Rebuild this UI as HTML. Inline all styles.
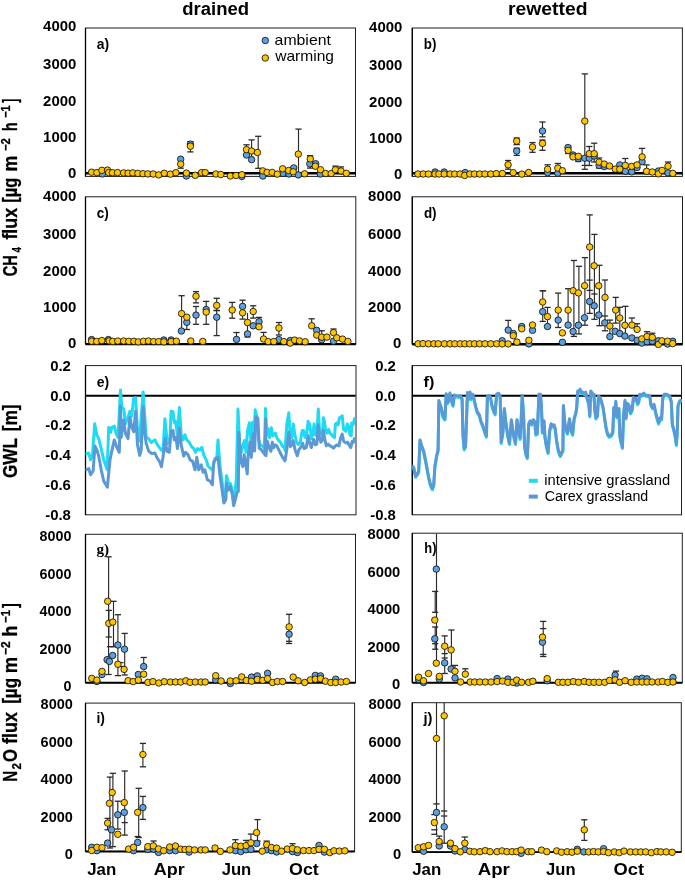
<!DOCTYPE html>
<html><head><meta charset="utf-8"><title>GHG flux figure</title>
<style>
html,body{margin:0;padding:0;background:#fff;}
body{width:685px;height:882px;overflow:hidden;font-family:"Liberation Sans",sans-serif;}
svg{display:block;will-change:transform;}
</style></head><body>
<svg width="685" height="882" viewBox="0 0 685 882">
<rect x="0" y="0" width="685" height="882" fill="#fff"/>
<text x="182.3" y="15.3" font-family="Liberation Sans" font-size="18" font-weight="bold" fill="#000" text-anchor="start" textLength="66.8" lengthAdjust="spacingAndGlyphs">drained</text>
<text x="508" y="15.3" font-family="Liberation Sans" font-size="18" font-weight="bold" fill="#000" text-anchor="start" textLength="79.6" lengthAdjust="spacingAndGlyphs">rewetted</text>
<g transform="translate(16.8,276.3) rotate(-90)">
<text x="0" y="0" font-family="Liberation Sans" font-size="19.5" font-weight="bold" stroke="#000" stroke-width="0.3" textLength="21.1" lengthAdjust="spacingAndGlyphs">CH</text>
<text x="23.7" y="4.1" font-family="Liberation Sans" font-size="12.4" font-weight="bold" stroke="#000" stroke-width="0.3" textLength="5.4" lengthAdjust="spacingAndGlyphs">4</text>
<text x="36.7" y="0" font-family="Liberation Sans" font-size="19.5" font-weight="bold" stroke="#000" stroke-width="0.3" textLength="31.8" lengthAdjust="spacingAndGlyphs">flux</text>
<text x="73.6" y="0" font-family="Liberation Sans" font-size="19.5" font-weight="bold" stroke="#000" stroke-width="0.3" textLength="24.9" lengthAdjust="spacingAndGlyphs">[µg</text>
<text x="104.8" y="0" font-family="Liberation Sans" font-size="19.5" font-weight="bold" stroke="#000" stroke-width="0.3" textLength="15.8" lengthAdjust="spacingAndGlyphs">m</text>
<text x="125.3" y="-6.9" font-family="Liberation Sans" font-size="12.4" font-weight="bold" stroke="#000" stroke-width="0.3" textLength="12.9" lengthAdjust="spacingAndGlyphs">−2</text>
<text x="145.2" y="0" font-family="Liberation Sans" font-size="19.5" font-weight="bold" stroke="#000" stroke-width="0.3" textLength="8.5" lengthAdjust="spacingAndGlyphs">h</text>
<text x="158.5" y="-6.9" font-family="Liberation Sans" font-size="12.4" font-weight="bold" stroke="#000" stroke-width="0.3" textLength="12.5" lengthAdjust="spacingAndGlyphs">−1</text>
<text x="173.6" y="0" font-family="Liberation Sans" font-size="19.5" font-weight="bold" stroke="#000" stroke-width="0.3" textLength="4" lengthAdjust="spacingAndGlyphs">]</text>
</g>
<g transform="translate(17,781.8) rotate(-90)">
<text x="0" y="0" font-family="Liberation Sans" font-size="19.5" font-weight="bold" stroke="#000" stroke-width="0.3" textLength="10.8" lengthAdjust="spacingAndGlyphs">N</text>
<text x="12.4" y="4.1" font-family="Liberation Sans" font-size="12.4" font-weight="bold" stroke="#000" stroke-width="0.3" textLength="6.4" lengthAdjust="spacingAndGlyphs">2</text>
<text x="19.8" y="0" font-family="Liberation Sans" font-size="19.5" font-weight="bold" stroke="#000" stroke-width="0.3" textLength="13" lengthAdjust="spacingAndGlyphs">O</text>
<text x="37.9" y="0" font-family="Liberation Sans" font-size="19.5" font-weight="bold" stroke="#000" stroke-width="0.3" textLength="31.9" lengthAdjust="spacingAndGlyphs">flux</text>
<text x="78" y="0" font-family="Liberation Sans" font-size="19.5" font-weight="bold" stroke="#000" stroke-width="0.3" textLength="25.8" lengthAdjust="spacingAndGlyphs">[µg</text>
<text x="108.6" y="0" font-family="Liberation Sans" font-size="19.5" font-weight="bold" stroke="#000" stroke-width="0.3" textLength="16.3" lengthAdjust="spacingAndGlyphs">m</text>
<text x="126.9" y="-6.9" font-family="Liberation Sans" font-size="12.4" font-weight="bold" stroke="#000" stroke-width="0.3" textLength="13.6" lengthAdjust="spacingAndGlyphs">−2</text>
<text x="145.3" y="0" font-family="Liberation Sans" font-size="19.5" font-weight="bold" stroke="#000" stroke-width="0.3" textLength="10.9" lengthAdjust="spacingAndGlyphs">h</text>
<text x="158.9" y="-6.9" font-family="Liberation Sans" font-size="12.4" font-weight="bold" stroke="#000" stroke-width="0.3" textLength="12.9" lengthAdjust="spacingAndGlyphs">−1</text>
<text x="173.9" y="0" font-family="Liberation Sans" font-size="19.5" font-weight="bold" stroke="#000" stroke-width="0.3" textLength="4.7" lengthAdjust="spacingAndGlyphs">]</text>
</g>
<g transform="translate(16.8,478) rotate(-90)">
<text x="0" y="0" font-family="Liberation Sans" font-size="19.5" font-weight="bold" stroke="#000" stroke-width="0.3" textLength="39.9" lengthAdjust="spacingAndGlyphs">GWL</text>
<text x="46.7" y="0" font-family="Liberation Sans" font-size="19.5" font-weight="bold" stroke="#000" stroke-width="0.3" textLength="26.8" lengthAdjust="spacingAndGlyphs">[m]</text>
</g>
<text x="43.1" y="31.2" font-family="Liberation Sans" font-size="15" font-weight="bold" fill="#000" text-anchor="start" textLength="33.2" lengthAdjust="spacingAndGlyphs">4000</text>
<text x="43.1" y="69.2" font-family="Liberation Sans" font-size="15" font-weight="bold" fill="#000" text-anchor="start" textLength="33.2" lengthAdjust="spacingAndGlyphs">3000</text>
<text x="43.1" y="106.35" font-family="Liberation Sans" font-size="15" font-weight="bold" fill="#000" text-anchor="start" textLength="33.2" lengthAdjust="spacingAndGlyphs">2000</text>
<text x="43.1" y="142.4" font-family="Liberation Sans" font-size="15" font-weight="bold" fill="#000" text-anchor="start" textLength="33.2" lengthAdjust="spacingAndGlyphs">1000</text>
<text x="68" y="178.3" font-family="Liberation Sans" font-size="15" font-weight="bold" fill="#000" text-anchor="start" textLength="8.3" lengthAdjust="spacingAndGlyphs">0</text>
<text x="369.1" y="32" font-family="Liberation Sans" font-size="15" font-weight="bold" fill="#000" text-anchor="start" textLength="33.2" lengthAdjust="spacingAndGlyphs">4000</text>
<text x="369.1" y="69.6" font-family="Liberation Sans" font-size="15" font-weight="bold" fill="#000" text-anchor="start" textLength="33.2" lengthAdjust="spacingAndGlyphs">3000</text>
<text x="369.1" y="107.1" font-family="Liberation Sans" font-size="15" font-weight="bold" fill="#000" text-anchor="start" textLength="33.2" lengthAdjust="spacingAndGlyphs">2000</text>
<text x="369.1" y="142.8" font-family="Liberation Sans" font-size="15" font-weight="bold" fill="#000" text-anchor="start" textLength="33.2" lengthAdjust="spacingAndGlyphs">1000</text>
<text x="394" y="178.5" font-family="Liberation Sans" font-size="15" font-weight="bold" fill="#000" text-anchor="start" textLength="8.3" lengthAdjust="spacingAndGlyphs">0</text>
<text x="43.1" y="201" font-family="Liberation Sans" font-size="15" font-weight="bold" fill="#000" text-anchor="start" textLength="33.2" lengthAdjust="spacingAndGlyphs">4000</text>
<text x="43.1" y="238.6" font-family="Liberation Sans" font-size="15" font-weight="bold" fill="#000" text-anchor="start" textLength="33.2" lengthAdjust="spacingAndGlyphs">3000</text>
<text x="43.1" y="276.2" font-family="Liberation Sans" font-size="15" font-weight="bold" fill="#000" text-anchor="start" textLength="33.2" lengthAdjust="spacingAndGlyphs">2000</text>
<text x="43.1" y="311.8" font-family="Liberation Sans" font-size="15" font-weight="bold" fill="#000" text-anchor="start" textLength="33.2" lengthAdjust="spacingAndGlyphs">1000</text>
<text x="68" y="347.5" font-family="Liberation Sans" font-size="15" font-weight="bold" fill="#000" text-anchor="start" textLength="8.3" lengthAdjust="spacingAndGlyphs">0</text>
<text x="368.1" y="201" font-family="Liberation Sans" font-size="15" font-weight="bold" fill="#000" text-anchor="start" textLength="33.2" lengthAdjust="spacingAndGlyphs">8000</text>
<text x="368.1" y="238.6" font-family="Liberation Sans" font-size="15" font-weight="bold" fill="#000" text-anchor="start" textLength="33.2" lengthAdjust="spacingAndGlyphs">6000</text>
<text x="368.1" y="276.2" font-family="Liberation Sans" font-size="15" font-weight="bold" fill="#000" text-anchor="start" textLength="33.2" lengthAdjust="spacingAndGlyphs">4000</text>
<text x="368.1" y="311.8" font-family="Liberation Sans" font-size="15" font-weight="bold" fill="#000" text-anchor="start" textLength="33.2" lengthAdjust="spacingAndGlyphs">2000</text>
<text x="393" y="347.5" font-family="Liberation Sans" font-size="15" font-weight="bold" fill="#000" text-anchor="start" textLength="8.3" lengthAdjust="spacingAndGlyphs">0</text>
<text x="50.15" y="370.8" font-family="Liberation Sans" font-size="15" font-weight="bold" fill="#000" text-anchor="start" textLength="20.75" lengthAdjust="spacingAndGlyphs">0.2</text>
<text x="50.15" y="400.6" font-family="Liberation Sans" font-size="15" font-weight="bold" fill="#000" text-anchor="start" textLength="20.75" lengthAdjust="spacingAndGlyphs">0.0</text>
<text x="45.17" y="430.4" font-family="Liberation Sans" font-size="15" font-weight="bold" fill="#000" text-anchor="start" textLength="25.73" lengthAdjust="spacingAndGlyphs">-0.2</text>
<text x="45.17" y="460.1" font-family="Liberation Sans" font-size="15" font-weight="bold" fill="#000" text-anchor="start" textLength="25.73" lengthAdjust="spacingAndGlyphs">-0.4</text>
<text x="45.17" y="489.9" font-family="Liberation Sans" font-size="15" font-weight="bold" fill="#000" text-anchor="start" textLength="25.73" lengthAdjust="spacingAndGlyphs">-0.6</text>
<text x="45.17" y="519.7" font-family="Liberation Sans" font-size="15" font-weight="bold" fill="#000" text-anchor="start" textLength="25.73" lengthAdjust="spacingAndGlyphs">-0.8</text>
<text x="375.15" y="370.8" font-family="Liberation Sans" font-size="15" font-weight="bold" fill="#000" text-anchor="start" textLength="20.75" lengthAdjust="spacingAndGlyphs">0.2</text>
<text x="375.15" y="400.6" font-family="Liberation Sans" font-size="15" font-weight="bold" fill="#000" text-anchor="start" textLength="20.75" lengthAdjust="spacingAndGlyphs">0.0</text>
<text x="370.17" y="430.4" font-family="Liberation Sans" font-size="15" font-weight="bold" fill="#000" text-anchor="start" textLength="25.73" lengthAdjust="spacingAndGlyphs">-0.2</text>
<text x="370.17" y="460.1" font-family="Liberation Sans" font-size="15" font-weight="bold" fill="#000" text-anchor="start" textLength="25.73" lengthAdjust="spacingAndGlyphs">-0.4</text>
<text x="370.17" y="489.9" font-family="Liberation Sans" font-size="15" font-weight="bold" fill="#000" text-anchor="start" textLength="25.73" lengthAdjust="spacingAndGlyphs">-0.6</text>
<text x="370.17" y="519.7" font-family="Liberation Sans" font-size="15" font-weight="bold" fill="#000" text-anchor="start" textLength="25.73" lengthAdjust="spacingAndGlyphs">-0.8</text>
<text x="39.6" y="541" font-family="Liberation Sans" font-size="15" font-weight="bold" fill="#000" text-anchor="start" textLength="31.8" lengthAdjust="spacingAndGlyphs">8000</text>
<text x="39.6" y="578.6" font-family="Liberation Sans" font-size="15" font-weight="bold" fill="#000" text-anchor="start" textLength="31.8" lengthAdjust="spacingAndGlyphs">6000</text>
<text x="39.6" y="616.2" font-family="Liberation Sans" font-size="15" font-weight="bold" fill="#000" text-anchor="start" textLength="31.8" lengthAdjust="spacingAndGlyphs">4000</text>
<text x="39.6" y="653.8" font-family="Liberation Sans" font-size="15" font-weight="bold" fill="#000" text-anchor="start" textLength="31.8" lengthAdjust="spacingAndGlyphs">2000</text>
<text x="63.45" y="691.4" font-family="Liberation Sans" font-size="15" font-weight="bold" fill="#000" text-anchor="start" textLength="7.95" lengthAdjust="spacingAndGlyphs">0</text>
<text x="367.5" y="539.1" font-family="Liberation Sans" font-size="15" font-weight="bold" fill="#000" text-anchor="start" textLength="32.8" lengthAdjust="spacingAndGlyphs">8000</text>
<text x="367.5" y="576.7" font-family="Liberation Sans" font-size="15" font-weight="bold" fill="#000" text-anchor="start" textLength="32.8" lengthAdjust="spacingAndGlyphs">6000</text>
<text x="367.5" y="614.2" font-family="Liberation Sans" font-size="15" font-weight="bold" fill="#000" text-anchor="start" textLength="32.8" lengthAdjust="spacingAndGlyphs">4000</text>
<text x="367.5" y="651.8" font-family="Liberation Sans" font-size="15" font-weight="bold" fill="#000" text-anchor="start" textLength="32.8" lengthAdjust="spacingAndGlyphs">2000</text>
<text x="392.1" y="689.4" font-family="Liberation Sans" font-size="15" font-weight="bold" fill="#000" text-anchor="start" textLength="8.2" lengthAdjust="spacingAndGlyphs">0</text>
<text x="40.6" y="709.3" font-family="Liberation Sans" font-size="15" font-weight="bold" fill="#000" text-anchor="start" textLength="32.2" lengthAdjust="spacingAndGlyphs">8000</text>
<text x="40.6" y="747.1" font-family="Liberation Sans" font-size="15" font-weight="bold" fill="#000" text-anchor="start" textLength="32.2" lengthAdjust="spacingAndGlyphs">6000</text>
<text x="40.6" y="784.4" font-family="Liberation Sans" font-size="15" font-weight="bold" fill="#000" text-anchor="start" textLength="32.2" lengthAdjust="spacingAndGlyphs">4000</text>
<text x="40.6" y="822.2" font-family="Liberation Sans" font-size="15" font-weight="bold" fill="#000" text-anchor="start" textLength="32.2" lengthAdjust="spacingAndGlyphs">2000</text>
<text x="64.75" y="859.2" font-family="Liberation Sans" font-size="15" font-weight="bold" fill="#000" text-anchor="start" textLength="8.05" lengthAdjust="spacingAndGlyphs">0</text>
<text x="368.5" y="709.3" font-family="Liberation Sans" font-size="15" font-weight="bold" fill="#000" text-anchor="start" textLength="32.8" lengthAdjust="spacingAndGlyphs">8000</text>
<text x="368.5" y="747.1" font-family="Liberation Sans" font-size="15" font-weight="bold" fill="#000" text-anchor="start" textLength="32.8" lengthAdjust="spacingAndGlyphs">6000</text>
<text x="368.5" y="784.4" font-family="Liberation Sans" font-size="15" font-weight="bold" fill="#000" text-anchor="start" textLength="32.8" lengthAdjust="spacingAndGlyphs">4000</text>
<text x="368.5" y="822.2" font-family="Liberation Sans" font-size="15" font-weight="bold" fill="#000" text-anchor="start" textLength="32.8" lengthAdjust="spacingAndGlyphs">2000</text>
<text x="393.1" y="859.2" font-family="Liberation Sans" font-size="15" font-weight="bold" fill="#000" text-anchor="start" textLength="8.2" lengthAdjust="spacingAndGlyphs">0</text>
<rect x="85.5" y="28" width="270" height="148.4" fill="none" stroke="#1e1e1e" stroke-width="1"/>
<line x1="85.5" y1="28" x2="85.5" y2="176.4" stroke="#000" stroke-width="1.3"/>
<rect x="412.3" y="28" width="270.1" height="148.4" fill="none" stroke="#1e1e1e" stroke-width="1"/>
<line x1="412.3" y1="28" x2="412.3" y2="176.4" stroke="#000" stroke-width="1.3"/>
<rect x="85.5" y="196.8" width="270.3" height="147.4" fill="none" stroke="#1e1e1e" stroke-width="1"/>
<line x1="85.5" y1="196.8" x2="85.5" y2="344.2" stroke="#000" stroke-width="1.3"/>
<rect x="412.3" y="196.8" width="270.2" height="147.5" fill="none" stroke="#1e1e1e" stroke-width="1"/>
<line x1="412.3" y1="196.8" x2="412.3" y2="344.3" stroke="#000" stroke-width="1.3"/>
<rect x="85.5" y="365.6" width="270.5" height="149.2" fill="none" stroke="#1e1e1e" stroke-width="1"/>
<line x1="85.5" y1="365.6" x2="85.5" y2="514.8" stroke="#000" stroke-width="1.3"/>
<rect x="412.3" y="365.6" width="269.2" height="149.2" fill="none" stroke="#1e1e1e" stroke-width="1"/>
<line x1="412.3" y1="365.6" x2="412.3" y2="514.8" stroke="#000" stroke-width="1.3"/>
<rect x="85.5" y="534.3" width="270" height="148.4" fill="none" stroke="#1e1e1e" stroke-width="1"/>
<line x1="85.5" y1="534.3" x2="85.5" y2="682.7" stroke="#000" stroke-width="1.3"/>
<rect x="412.3" y="533.2" width="270" height="149.5" fill="none" stroke="#1e1e1e" stroke-width="1"/>
<line x1="412.3" y1="533.2" x2="412.3" y2="682.7" stroke="#000" stroke-width="1.3"/>
<rect x="85.5" y="703.1" width="269.1" height="148.3" fill="none" stroke="#1e1e1e" stroke-width="1"/>
<line x1="85.5" y1="703.1" x2="85.5" y2="851.4" stroke="#000" stroke-width="1.3"/>
<rect x="412.3" y="702.7" width="269" height="149.3" fill="none" stroke="#1e1e1e" stroke-width="1"/>
<line x1="412.3" y1="702.7" x2="412.3" y2="852" stroke="#000" stroke-width="1.3"/>
<text x="96.7" y="48.7" font-family="Liberation Sans" font-size="15.5" font-weight="bold" fill="#000" text-anchor="start" textLength="12.4" lengthAdjust="spacingAndGlyphs">a)</text>
<text x="423.8" y="48.9" font-family="Liberation Sans" font-size="15.5" font-weight="bold" fill="#000" text-anchor="start" textLength="12.6" lengthAdjust="spacingAndGlyphs">b)</text>
<text x="96.7" y="217.8" font-family="Liberation Sans" font-size="15.5" font-weight="bold" fill="#000" text-anchor="start" textLength="12" lengthAdjust="spacingAndGlyphs">c)</text>
<text x="423.9" y="217.9" font-family="Liberation Sans" font-size="15.5" font-weight="bold" fill="#000" text-anchor="start" textLength="12.7" lengthAdjust="spacingAndGlyphs">d)</text>
<text x="96.7" y="386.5" font-family="Liberation Sans" font-size="15.5" font-weight="bold" fill="#000" text-anchor="start" textLength="12.4" lengthAdjust="spacingAndGlyphs">e)</text>
<text x="423.5" y="386.5" font-family="Liberation Sans" font-size="15.5" font-weight="bold" fill="#000" text-anchor="start" textLength="10.8" lengthAdjust="spacingAndGlyphs">f)</text>
<text x="96.4" y="553.6" font-family="Liberation Serif" font-size="15.5" font-weight="bold" fill="#000" text-anchor="start" textLength="12.7" lengthAdjust="spacingAndGlyphs">g)</text>
<text x="424.3" y="553.4" font-family="Liberation Sans" font-size="15.5" font-weight="bold" fill="#000" text-anchor="start" textLength="12.2" lengthAdjust="spacingAndGlyphs">h)</text>
<text x="96.4" y="722.5" font-family="Liberation Sans" font-size="15.5" font-weight="bold" fill="#000" text-anchor="start" textLength="8.5" lengthAdjust="spacingAndGlyphs">i)</text>
<text x="423.5" y="722.5" font-family="Liberation Sans" font-size="15.5" font-weight="bold" fill="#000" text-anchor="start" textLength="9" lengthAdjust="spacingAndGlyphs">j)</text>
<text x="87.2" y="875.2" font-family="Liberation Sans" font-size="16.6" font-weight="bold" fill="#000" text-anchor="start" textLength="29" lengthAdjust="spacingAndGlyphs">Jan</text>
<text x="153.7" y="875.2" font-family="Liberation Sans" font-size="16.6" font-weight="bold" fill="#000" text-anchor="start" textLength="31" lengthAdjust="spacingAndGlyphs">Apr</text>
<text x="221.7" y="875.2" font-family="Liberation Sans" font-size="16.6" font-weight="bold" fill="#000" text-anchor="start" textLength="29.6" lengthAdjust="spacingAndGlyphs">Jun</text>
<text x="289" y="875.2" font-family="Liberation Sans" font-size="16.6" font-weight="bold" fill="#000" text-anchor="start" textLength="29.8" lengthAdjust="spacingAndGlyphs">Oct</text>
<text x="412.2" y="875.2" font-family="Liberation Sans" font-size="16.6" font-weight="bold" fill="#000" text-anchor="start" textLength="29" lengthAdjust="spacingAndGlyphs">Jan</text>
<text x="477.7" y="875.2" font-family="Liberation Sans" font-size="16.6" font-weight="bold" fill="#000" text-anchor="start" textLength="32.2" lengthAdjust="spacingAndGlyphs">Apr</text>
<text x="546.1" y="875.2" font-family="Liberation Sans" font-size="16.6" font-weight="bold" fill="#000" text-anchor="start" textLength="29.5" lengthAdjust="spacingAndGlyphs">Jun</text>
<text x="613.6" y="875.2" font-family="Liberation Sans" font-size="16.6" font-weight="bold" fill="#000" text-anchor="start" textLength="30.5" lengthAdjust="spacingAndGlyphs">Oct</text>
<circle cx="265.3" cy="40.5" r="3.25" fill="#5DA0E0" stroke="#111" stroke-width="0.85"/>
<circle cx="265.3" cy="58" r="3.25" fill="#FFC500" stroke="#111" stroke-width="0.85"/>
<text x="274.6" y="44.6" font-family="Liberation Sans" font-size="14.2" font-weight="normal" fill="#000" text-anchor="start" textLength="56.3" lengthAdjust="spacingAndGlyphs">ambient</text>
<text x="275.2" y="61.4" font-family="Liberation Sans" font-size="14.2" font-weight="normal" fill="#000" text-anchor="start" textLength="58.8" lengthAdjust="spacingAndGlyphs">warming</text>
<rect x="528.8" y="478.8" width="9" height="4" fill="#1EDAF3"/>
<rect x="528.8" y="494.6" width="9" height="4" fill="#5A98D6"/>
<text x="544.2" y="485.3" font-family="Liberation Sans" font-size="14" font-weight="normal" fill="#000" text-anchor="start" textLength="126" lengthAdjust="spacingAndGlyphs">intensive grassland</text>
<text x="544.8" y="500.7" font-family="Liberation Sans" font-size="14" font-weight="normal" fill="#000" text-anchor="start" textLength="103.4" lengthAdjust="spacingAndGlyphs">Carex grassland</text>
<line x1="85.5" y1="173.3" x2="355.5" y2="173.3" stroke="#000" stroke-width="2.4"/>
<line x1="412.3" y1="173.3" x2="682.4" y2="173.3" stroke="#000" stroke-width="2.4"/>
<line x1="85.5" y1="344.1" x2="355.8" y2="344.1" stroke="#000" stroke-width="2.3"/>
<line x1="412.3" y1="344.3" x2="682.5" y2="344.3" stroke="#000" stroke-width="2.4"/>
<line x1="85.5" y1="395.8" x2="355.6" y2="395.8" stroke="#000" stroke-width="2.1"/>
<line x1="412.3" y1="395.8" x2="681.5" y2="395.8" stroke="#000" stroke-width="2.1"/>
<line x1="85.5" y1="682.7" x2="355.5" y2="682.7" stroke="#000" stroke-width="2"/>
<line x1="412.3" y1="682.7" x2="682.3" y2="682.7" stroke="#000" stroke-width="2"/>
<line x1="85.5" y1="851.5" x2="354.6" y2="851.5" stroke="#000" stroke-width="2"/>
<line x1="412.3" y1="852.1" x2="681.3" y2="852.1" stroke="#000" stroke-width="1.9"/>
<line x1="180.7" y1="159.2" x2="180.7" y2="168.2" stroke="#2a2a2a" stroke-width="1.15"/>
<line x1="177.6" y1="168.2" x2="183.8" y2="168.2" stroke="#2a2a2a" stroke-width="1.3"/>
<line x1="190.4" y1="141.6" x2="190.4" y2="151.9" stroke="#2a2a2a" stroke-width="1.15"/>
<line x1="187.3" y1="141.6" x2="193.5" y2="141.6" stroke="#2a2a2a" stroke-width="1.3"/>
<line x1="187.3" y1="151.9" x2="193.5" y2="151.9" stroke="#2a2a2a" stroke-width="1.3"/>
<line x1="246.5" y1="144.8" x2="246.5" y2="155" stroke="#2a2a2a" stroke-width="1.15"/>
<line x1="243.4" y1="144.8" x2="249.6" y2="144.8" stroke="#2a2a2a" stroke-width="1.3"/>
<line x1="251.6" y1="139.9" x2="251.6" y2="159.6" stroke="#2a2a2a" stroke-width="1.15"/>
<line x1="248.5" y1="139.9" x2="254.7" y2="139.9" stroke="#2a2a2a" stroke-width="1.3"/>
<line x1="258.2" y1="136.3" x2="258.2" y2="168.3" stroke="#2a2a2a" stroke-width="1.15"/>
<line x1="255.1" y1="136.3" x2="261.3" y2="136.3" stroke="#2a2a2a" stroke-width="1.3"/>
<line x1="255.1" y1="168.3" x2="261.3" y2="168.3" stroke="#2a2a2a" stroke-width="1.3"/>
<line x1="293.7" y1="166.9" x2="293.7" y2="171.8" stroke="#2a2a2a" stroke-width="1.15"/>
<line x1="290.6" y1="166.9" x2="296.8" y2="166.9" stroke="#2a2a2a" stroke-width="1.3"/>
<line x1="298.5" y1="129.1" x2="298.5" y2="174" stroke="#2a2a2a" stroke-width="1.15"/>
<line x1="295.4" y1="129.1" x2="301.6" y2="129.1" stroke="#2a2a2a" stroke-width="1.3"/>
<line x1="295.4" y1="174" x2="301.6" y2="174" stroke="#2a2a2a" stroke-width="1.3"/>
<line x1="310.1" y1="155.7" x2="310.1" y2="168.1" stroke="#2a2a2a" stroke-width="1.15"/>
<line x1="307" y1="155.7" x2="313.2" y2="155.7" stroke="#2a2a2a" stroke-width="1.3"/>
<line x1="307" y1="168.1" x2="313.2" y2="168.1" stroke="#2a2a2a" stroke-width="1.3"/>
<line x1="335.4" y1="166.1" x2="335.4" y2="169.8" stroke="#2a2a2a" stroke-width="1.15"/>
<line x1="332.3" y1="166.1" x2="338.5" y2="166.1" stroke="#2a2a2a" stroke-width="1.3"/>
<line x1="341" y1="166.9" x2="341" y2="171" stroke="#2a2a2a" stroke-width="1.15"/>
<line x1="337.9" y1="166.9" x2="344.1" y2="166.9" stroke="#2a2a2a" stroke-width="1.3"/>
<circle cx="102.4" cy="173.9" r="3.25" fill="#5DA0E0" stroke="#111" stroke-width="0.85"/>
<circle cx="186.4" cy="176" r="3.25" fill="#5DA0E0" stroke="#111" stroke-width="0.85"/>
<circle cx="180.7" cy="159.2" r="3.25" fill="#5DA0E0" stroke="#111" stroke-width="0.85"/>
<circle cx="190.4" cy="144.2" r="3.25" fill="#5DA0E0" stroke="#111" stroke-width="0.85"/>
<circle cx="241.8" cy="176.5" r="3.25" fill="#5DA0E0" stroke="#111" stroke-width="0.85"/>
<circle cx="246.5" cy="155" r="3.25" fill="#5DA0E0" stroke="#111" stroke-width="0.85"/>
<circle cx="251.6" cy="159.6" r="3.25" fill="#5DA0E0" stroke="#111" stroke-width="0.85"/>
<circle cx="262.8" cy="176" r="3.25" fill="#5DA0E0" stroke="#111" stroke-width="0.85"/>
<circle cx="283" cy="173.4" r="3.25" fill="#5DA0E0" stroke="#111" stroke-width="0.85"/>
<circle cx="288.9" cy="174" r="3.25" fill="#5DA0E0" stroke="#111" stroke-width="0.85"/>
<circle cx="293.7" cy="167.9" r="3.25" fill="#5DA0E0" stroke="#111" stroke-width="0.85"/>
<circle cx="298.3" cy="174.9" r="3.25" fill="#5DA0E0" stroke="#111" stroke-width="0.85"/>
<circle cx="309.8" cy="163.8" r="3.25" fill="#5DA0E0" stroke="#111" stroke-width="0.85"/>
<circle cx="315.7" cy="163.8" r="3.25" fill="#5DA0E0" stroke="#111" stroke-width="0.85"/>
<circle cx="320.3" cy="174" r="3.25" fill="#5DA0E0" stroke="#111" stroke-width="0.85"/>
<circle cx="91.6" cy="172.2" r="3.25" fill="#FFC500" stroke="#111" stroke-width="0.85"/>
<circle cx="96.8" cy="172.6" r="3.25" fill="#FFC500" stroke="#111" stroke-width="0.85"/>
<circle cx="101.9" cy="170.3" r="3.25" fill="#FFC500" stroke="#111" stroke-width="0.85"/>
<circle cx="107.5" cy="170.1" r="3.25" fill="#FFC500" stroke="#111" stroke-width="0.85"/>
<circle cx="108.7" cy="172.6" r="3.25" fill="#FFC500" stroke="#111" stroke-width="0.85"/>
<circle cx="112.4" cy="172.7" r="3.25" fill="#FFC500" stroke="#111" stroke-width="0.85"/>
<circle cx="117.5" cy="172.6" r="3.25" fill="#FFC500" stroke="#111" stroke-width="0.85"/>
<circle cx="123.6" cy="172.9" r="3.25" fill="#FFC500" stroke="#111" stroke-width="0.85"/>
<circle cx="128.1" cy="173.2" r="3.25" fill="#FFC500" stroke="#111" stroke-width="0.85"/>
<circle cx="132.8" cy="172.9" r="3.25" fill="#FFC500" stroke="#111" stroke-width="0.85"/>
<circle cx="137.9" cy="173.4" r="3.25" fill="#FFC500" stroke="#111" stroke-width="0.85"/>
<circle cx="143" cy="173.7" r="3.25" fill="#FFC500" stroke="#111" stroke-width="0.85"/>
<circle cx="147.8" cy="173.9" r="3.25" fill="#FFC500" stroke="#111" stroke-width="0.85"/>
<circle cx="153.2" cy="174" r="3.25" fill="#FFC500" stroke="#111" stroke-width="0.85"/>
<circle cx="158.7" cy="174.9" r="3.25" fill="#FFC500" stroke="#111" stroke-width="0.85"/>
<circle cx="164.3" cy="173.3" r="3.25" fill="#FFC500" stroke="#111" stroke-width="0.85"/>
<circle cx="170.4" cy="174.1" r="3.25" fill="#FFC500" stroke="#111" stroke-width="0.85"/>
<circle cx="175.9" cy="172.7" r="3.25" fill="#FFC500" stroke="#111" stroke-width="0.85"/>
<circle cx="186.4" cy="173.1" r="3.25" fill="#FFC500" stroke="#111" stroke-width="0.85"/>
<circle cx="195.2" cy="175.3" r="3.25" fill="#FFC500" stroke="#111" stroke-width="0.85"/>
<circle cx="201.6" cy="172.6" r="3.25" fill="#FFC500" stroke="#111" stroke-width="0.85"/>
<circle cx="205.2" cy="172.6" r="3.25" fill="#FFC500" stroke="#111" stroke-width="0.85"/>
<circle cx="215.9" cy="174" r="3.25" fill="#FFC500" stroke="#111" stroke-width="0.85"/>
<circle cx="220.8" cy="174.5" r="3.25" fill="#FFC500" stroke="#111" stroke-width="0.85"/>
<circle cx="230.3" cy="176" r="3.25" fill="#FFC500" stroke="#111" stroke-width="0.85"/>
<circle cx="236" cy="175.5" r="3.25" fill="#FFC500" stroke="#111" stroke-width="0.85"/>
<circle cx="241.8" cy="174.7" r="3.25" fill="#FFC500" stroke="#111" stroke-width="0.85"/>
<circle cx="180.7" cy="164.1" r="3.25" fill="#FFC500" stroke="#111" stroke-width="0.85"/>
<circle cx="190.4" cy="146.2" r="3.25" fill="#FFC500" stroke="#111" stroke-width="0.85"/>
<circle cx="246.5" cy="149.6" r="3.25" fill="#FFC500" stroke="#111" stroke-width="0.85"/>
<circle cx="251.6" cy="151" r="3.25" fill="#FFC500" stroke="#111" stroke-width="0.85"/>
<circle cx="257.4" cy="152.5" r="3.25" fill="#FFC500" stroke="#111" stroke-width="0.85"/>
<circle cx="262.8" cy="170.9" r="3.25" fill="#FFC500" stroke="#111" stroke-width="0.85"/>
<circle cx="267.1" cy="172.4" r="3.25" fill="#FFC500" stroke="#111" stroke-width="0.85"/>
<circle cx="272.2" cy="172.4" r="3.25" fill="#FFC500" stroke="#111" stroke-width="0.85"/>
<circle cx="277.3" cy="174.1" r="3.25" fill="#FFC500" stroke="#111" stroke-width="0.85"/>
<circle cx="282.6" cy="168.8" r="3.25" fill="#FFC500" stroke="#111" stroke-width="0.85"/>
<circle cx="288.6" cy="170.5" r="3.25" fill="#FFC500" stroke="#111" stroke-width="0.85"/>
<circle cx="293.2" cy="171.8" r="3.25" fill="#FFC500" stroke="#111" stroke-width="0.85"/>
<circle cx="298.3" cy="154.1" r="3.25" fill="#FFC500" stroke="#111" stroke-width="0.85"/>
<circle cx="304.6" cy="173.8" r="3.25" fill="#FFC500" stroke="#111" stroke-width="0.85"/>
<circle cx="310.3" cy="158.9" r="3.25" fill="#FFC500" stroke="#111" stroke-width="0.85"/>
<circle cx="315.3" cy="166.2" r="3.25" fill="#FFC500" stroke="#111" stroke-width="0.85"/>
<circle cx="320.5" cy="169.7" r="3.25" fill="#FFC500" stroke="#111" stroke-width="0.85"/>
<circle cx="325.6" cy="173.5" r="3.25" fill="#FFC500" stroke="#111" stroke-width="0.85"/>
<circle cx="331.2" cy="173.5" r="3.25" fill="#FFC500" stroke="#111" stroke-width="0.85"/>
<circle cx="335.4" cy="169.8" r="3.25" fill="#FFC500" stroke="#111" stroke-width="0.85"/>
<circle cx="341" cy="171" r="3.25" fill="#FFC500" stroke="#111" stroke-width="0.85"/>
<circle cx="346.3" cy="173.3" r="3.25" fill="#FFC500" stroke="#111" stroke-width="0.85"/>
<line x1="508.1" y1="160.5" x2="508.1" y2="169.2" stroke="#2a2a2a" stroke-width="1.15"/>
<line x1="505" y1="160.5" x2="511.2" y2="160.5" stroke="#2a2a2a" stroke-width="1.3"/>
<line x1="505" y1="169.2" x2="511.2" y2="169.2" stroke="#2a2a2a" stroke-width="1.3"/>
<line x1="516.7" y1="138" x2="516.7" y2="144.6" stroke="#2a2a2a" stroke-width="1.15"/>
<line x1="513.6" y1="138" x2="519.8" y2="138" stroke="#2a2a2a" stroke-width="1.3"/>
<line x1="513.6" y1="144.6" x2="519.8" y2="144.6" stroke="#2a2a2a" stroke-width="1.3"/>
<line x1="516.7" y1="148.2" x2="516.7" y2="155.4" stroke="#2a2a2a" stroke-width="1.15"/>
<line x1="513.6" y1="148.2" x2="519.8" y2="148.2" stroke="#2a2a2a" stroke-width="1.3"/>
<line x1="513.6" y1="155.4" x2="519.8" y2="155.4" stroke="#2a2a2a" stroke-width="1.3"/>
<line x1="532.5" y1="142.6" x2="532.5" y2="152.3" stroke="#2a2a2a" stroke-width="1.15"/>
<line x1="529.4" y1="142.6" x2="535.6" y2="142.6" stroke="#2a2a2a" stroke-width="1.3"/>
<line x1="529.4" y1="152.3" x2="535.6" y2="152.3" stroke="#2a2a2a" stroke-width="1.3"/>
<line x1="542.5" y1="122" x2="542.5" y2="136.8" stroke="#2a2a2a" stroke-width="1.15"/>
<line x1="539.4" y1="122" x2="545.6" y2="122" stroke="#2a2a2a" stroke-width="1.3"/>
<line x1="539.4" y1="136.8" x2="545.6" y2="136.8" stroke="#2a2a2a" stroke-width="1.3"/>
<line x1="542.5" y1="140" x2="542.5" y2="150.3" stroke="#2a2a2a" stroke-width="1.15"/>
<line x1="539.4" y1="140" x2="545.6" y2="140" stroke="#2a2a2a" stroke-width="1.3"/>
<line x1="539.4" y1="150.3" x2="545.6" y2="150.3" stroke="#2a2a2a" stroke-width="1.3"/>
<line x1="547.6" y1="164.8" x2="547.6" y2="169.2" stroke="#2a2a2a" stroke-width="1.15"/>
<line x1="544.5" y1="164.8" x2="550.7" y2="164.8" stroke="#2a2a2a" stroke-width="1.3"/>
<line x1="557.8" y1="163.5" x2="557.8" y2="168.1" stroke="#2a2a2a" stroke-width="1.15"/>
<line x1="554.7" y1="163.5" x2="560.9" y2="163.5" stroke="#2a2a2a" stroke-width="1.3"/>
<line x1="584.8" y1="73.9" x2="584.8" y2="169.3" stroke="#2a2a2a" stroke-width="1.15"/>
<line x1="581.7" y1="73.9" x2="587.9" y2="73.9" stroke="#2a2a2a" stroke-width="1.3"/>
<line x1="581.7" y1="169.3" x2="587.9" y2="169.3" stroke="#2a2a2a" stroke-width="1.3"/>
<line x1="589.3" y1="146.5" x2="589.3" y2="165.5" stroke="#2a2a2a" stroke-width="1.15"/>
<line x1="586.2" y1="146.5" x2="592.4" y2="146.5" stroke="#2a2a2a" stroke-width="1.3"/>
<line x1="586.2" y1="165.5" x2="592.4" y2="165.5" stroke="#2a2a2a" stroke-width="1.3"/>
<line x1="594.2" y1="143.2" x2="594.2" y2="162" stroke="#2a2a2a" stroke-width="1.15"/>
<line x1="591.1" y1="143.2" x2="597.3" y2="143.2" stroke="#2a2a2a" stroke-width="1.3"/>
<line x1="591.1" y1="162" x2="597.3" y2="162" stroke="#2a2a2a" stroke-width="1.3"/>
<line x1="599.1" y1="158" x2="599.1" y2="168" stroke="#2a2a2a" stroke-width="1.15"/>
<line x1="596" y1="158" x2="602.2" y2="158" stroke="#2a2a2a" stroke-width="1.3"/>
<line x1="596" y1="168" x2="602.2" y2="168" stroke="#2a2a2a" stroke-width="1.3"/>
<line x1="625.3" y1="158.5" x2="625.3" y2="165.4" stroke="#2a2a2a" stroke-width="1.15"/>
<line x1="622.2" y1="158.5" x2="628.4" y2="158.5" stroke="#2a2a2a" stroke-width="1.3"/>
<line x1="642.1" y1="148.4" x2="642.1" y2="156.9" stroke="#2a2a2a" stroke-width="1.15"/>
<line x1="639" y1="148.4" x2="645.2" y2="148.4" stroke="#2a2a2a" stroke-width="1.3"/>
<line x1="646.6" y1="164.9" x2="646.6" y2="171.3" stroke="#2a2a2a" stroke-width="1.15"/>
<line x1="643.5" y1="164.9" x2="649.7" y2="164.9" stroke="#2a2a2a" stroke-width="1.3"/>
<line x1="668" y1="162" x2="668" y2="166.2" stroke="#2a2a2a" stroke-width="1.15"/>
<line x1="664.9" y1="162" x2="671.1" y2="162" stroke="#2a2a2a" stroke-width="1.3"/>
<line x1="568.1" y1="146" x2="568.1" y2="153.5" stroke="#2a2a2a" stroke-width="1.15"/>
<line x1="565" y1="146" x2="571.2" y2="146" stroke="#2a2a2a" stroke-width="1.3"/>
<line x1="565" y1="153.5" x2="571.2" y2="153.5" stroke="#2a2a2a" stroke-width="1.3"/>
<line x1="581.7" y1="165.4" x2="587.9" y2="165.4" stroke="#2a2a2a" stroke-width="1.3"/>
<line x1="575.2" y1="161.5" x2="581.4" y2="161.5" stroke="#2a2a2a" stroke-width="1.3"/>
<line x1="601.2" y1="168.5" x2="607.4" y2="168.5" stroke="#2a2a2a" stroke-width="1.3"/>
<circle cx="435" cy="172" r="3.25" fill="#5DA0E0" stroke="#111" stroke-width="0.85"/>
<circle cx="444.2" cy="172" r="3.25" fill="#5DA0E0" stroke="#111" stroke-width="0.85"/>
<circle cx="465.2" cy="172.6" r="3.25" fill="#5DA0E0" stroke="#111" stroke-width="0.85"/>
<circle cx="516.7" cy="151" r="3.25" fill="#5DA0E0" stroke="#111" stroke-width="0.85"/>
<circle cx="542.5" cy="131" r="3.25" fill="#5DA0E0" stroke="#111" stroke-width="0.85"/>
<circle cx="547.6" cy="172.7" r="3.25" fill="#5DA0E0" stroke="#111" stroke-width="0.85"/>
<circle cx="557.8" cy="173.2" r="3.25" fill="#5DA0E0" stroke="#111" stroke-width="0.85"/>
<circle cx="568" cy="147.5" r="3.25" fill="#5DA0E0" stroke="#111" stroke-width="0.85"/>
<circle cx="573" cy="155" r="3.25" fill="#5DA0E0" stroke="#111" stroke-width="0.85"/>
<circle cx="578.3" cy="158.5" r="3.25" fill="#5DA0E0" stroke="#111" stroke-width="0.85"/>
<circle cx="584.8" cy="158.2" r="3.25" fill="#5DA0E0" stroke="#111" stroke-width="0.85"/>
<circle cx="589.3" cy="158.2" r="3.25" fill="#5DA0E0" stroke="#111" stroke-width="0.85"/>
<circle cx="594.2" cy="156" r="3.25" fill="#5DA0E0" stroke="#111" stroke-width="0.85"/>
<circle cx="599.1" cy="165.4" r="3.25" fill="#5DA0E0" stroke="#111" stroke-width="0.85"/>
<circle cx="604.3" cy="166.5" r="3.25" fill="#5DA0E0" stroke="#111" stroke-width="0.85"/>
<circle cx="619.8" cy="164.9" r="3.25" fill="#5DA0E0" stroke="#111" stroke-width="0.85"/>
<circle cx="625.3" cy="171.3" r="3.25" fill="#5DA0E0" stroke="#111" stroke-width="0.85"/>
<circle cx="631.7" cy="171.8" r="3.25" fill="#5DA0E0" stroke="#111" stroke-width="0.85"/>
<circle cx="637" cy="167.5" r="3.25" fill="#5DA0E0" stroke="#111" stroke-width="0.85"/>
<circle cx="642.1" cy="161.7" r="3.25" fill="#5DA0E0" stroke="#111" stroke-width="0.85"/>
<circle cx="658.4" cy="171" r="3.25" fill="#5DA0E0" stroke="#111" stroke-width="0.85"/>
<circle cx="668" cy="172.9" r="3.25" fill="#5DA0E0" stroke="#111" stroke-width="0.85"/>
<circle cx="417.9" cy="174" r="3.25" fill="#FFC500" stroke="#111" stroke-width="0.85"/>
<circle cx="423.2" cy="174" r="3.25" fill="#FFC500" stroke="#111" stroke-width="0.85"/>
<circle cx="428.4" cy="174" r="3.25" fill="#FFC500" stroke="#111" stroke-width="0.85"/>
<circle cx="435" cy="174" r="3.25" fill="#FFC500" stroke="#111" stroke-width="0.85"/>
<circle cx="438.9" cy="174" r="3.25" fill="#FFC500" stroke="#111" stroke-width="0.85"/>
<circle cx="444.2" cy="174" r="3.25" fill="#FFC500" stroke="#111" stroke-width="0.85"/>
<circle cx="450.1" cy="174" r="3.25" fill="#FFC500" stroke="#111" stroke-width="0.85"/>
<circle cx="454.7" cy="174" r="3.25" fill="#FFC500" stroke="#111" stroke-width="0.85"/>
<circle cx="460" cy="174" r="3.25" fill="#FFC500" stroke="#111" stroke-width="0.85"/>
<circle cx="464.6" cy="175.4" r="3.25" fill="#FFC500" stroke="#111" stroke-width="0.85"/>
<circle cx="469.8" cy="174" r="3.25" fill="#FFC500" stroke="#111" stroke-width="0.85"/>
<circle cx="474.4" cy="174" r="3.25" fill="#FFC500" stroke="#111" stroke-width="0.85"/>
<circle cx="479.7" cy="174" r="3.25" fill="#FFC500" stroke="#111" stroke-width="0.85"/>
<circle cx="484.9" cy="174" r="3.25" fill="#FFC500" stroke="#111" stroke-width="0.85"/>
<circle cx="490.8" cy="174" r="3.25" fill="#FFC500" stroke="#111" stroke-width="0.85"/>
<circle cx="496.3" cy="173.6" r="3.25" fill="#FFC500" stroke="#111" stroke-width="0.85"/>
<circle cx="502.4" cy="173.5" r="3.25" fill="#FFC500" stroke="#111" stroke-width="0.85"/>
<circle cx="508.1" cy="164.8" r="3.25" fill="#FFC500" stroke="#111" stroke-width="0.85"/>
<circle cx="513.2" cy="172.7" r="3.25" fill="#FFC500" stroke="#111" stroke-width="0.85"/>
<circle cx="516.7" cy="141.1" r="3.25" fill="#FFC500" stroke="#111" stroke-width="0.85"/>
<circle cx="521.8" cy="174.1" r="3.25" fill="#FFC500" stroke="#111" stroke-width="0.85"/>
<circle cx="528.7" cy="172.5" r="3.25" fill="#FFC500" stroke="#111" stroke-width="0.85"/>
<circle cx="532.5" cy="147" r="3.25" fill="#FFC500" stroke="#111" stroke-width="0.85"/>
<circle cx="542.5" cy="143.4" r="3.25" fill="#FFC500" stroke="#111" stroke-width="0.85"/>
<circle cx="547.6" cy="169.2" r="3.25" fill="#FFC500" stroke="#111" stroke-width="0.85"/>
<circle cx="557.8" cy="168.1" r="3.25" fill="#FFC500" stroke="#111" stroke-width="0.85"/>
<circle cx="562.4" cy="170.7" r="3.25" fill="#FFC500" stroke="#111" stroke-width="0.85"/>
<circle cx="568.1" cy="150.4" r="3.25" fill="#FFC500" stroke="#111" stroke-width="0.85"/>
<circle cx="573" cy="156.9" r="3.25" fill="#FFC500" stroke="#111" stroke-width="0.85"/>
<circle cx="578.3" cy="156.3" r="3.25" fill="#FFC500" stroke="#111" stroke-width="0.85"/>
<circle cx="584.8" cy="121.1" r="3.25" fill="#FFC500" stroke="#111" stroke-width="0.85"/>
<circle cx="589.3" cy="153.7" r="3.25" fill="#FFC500" stroke="#111" stroke-width="0.85"/>
<circle cx="594.2" cy="153.7" r="3.25" fill="#FFC500" stroke="#111" stroke-width="0.85"/>
<circle cx="599.1" cy="162.1" r="3.25" fill="#FFC500" stroke="#111" stroke-width="0.85"/>
<circle cx="604.3" cy="164.1" r="3.25" fill="#FFC500" stroke="#111" stroke-width="0.85"/>
<circle cx="609.5" cy="166" r="3.25" fill="#FFC500" stroke="#111" stroke-width="0.85"/>
<circle cx="615.3" cy="169.1" r="3.25" fill="#FFC500" stroke="#111" stroke-width="0.85"/>
<circle cx="619.8" cy="169.2" r="3.25" fill="#FFC500" stroke="#111" stroke-width="0.85"/>
<circle cx="625.3" cy="165.4" r="3.25" fill="#FFC500" stroke="#111" stroke-width="0.85"/>
<circle cx="631.7" cy="166.3" r="3.25" fill="#FFC500" stroke="#111" stroke-width="0.85"/>
<circle cx="637" cy="164.9" r="3.25" fill="#FFC500" stroke="#111" stroke-width="0.85"/>
<circle cx="642.1" cy="156.9" r="3.25" fill="#FFC500" stroke="#111" stroke-width="0.85"/>
<circle cx="646.6" cy="171.3" r="3.25" fill="#FFC500" stroke="#111" stroke-width="0.85"/>
<circle cx="652.3" cy="172" r="3.25" fill="#FFC500" stroke="#111" stroke-width="0.85"/>
<circle cx="658.4" cy="173.8" r="3.25" fill="#FFC500" stroke="#111" stroke-width="0.85"/>
<circle cx="662.1" cy="170.4" r="3.25" fill="#FFC500" stroke="#111" stroke-width="0.85"/>
<circle cx="668" cy="166.2" r="3.25" fill="#FFC500" stroke="#111" stroke-width="0.85"/>
<circle cx="672.8" cy="173.4" r="3.25" fill="#FFC500" stroke="#111" stroke-width="0.85"/>
<line x1="181.6" y1="295.7" x2="181.6" y2="331" stroke="#2a2a2a" stroke-width="1.15"/>
<line x1="178.5" y1="295.7" x2="184.7" y2="295.7" stroke="#2a2a2a" stroke-width="1.3"/>
<line x1="186.8" y1="317.2" x2="186.8" y2="329.5" stroke="#2a2a2a" stroke-width="1.15"/>
<line x1="183.7" y1="329.5" x2="189.9" y2="329.5" stroke="#2a2a2a" stroke-width="1.3"/>
<line x1="196" y1="291.6" x2="196" y2="302.9" stroke="#2a2a2a" stroke-width="1.15"/>
<line x1="192.9" y1="291.6" x2="199.1" y2="291.6" stroke="#2a2a2a" stroke-width="1.3"/>
<line x1="192.9" y1="302.9" x2="199.1" y2="302.9" stroke="#2a2a2a" stroke-width="1.3"/>
<line x1="196" y1="306.5" x2="196" y2="324.3" stroke="#2a2a2a" stroke-width="1.15"/>
<line x1="192.9" y1="306.5" x2="199.1" y2="306.5" stroke="#2a2a2a" stroke-width="1.3"/>
<line x1="192.9" y1="324.3" x2="199.1" y2="324.3" stroke="#2a2a2a" stroke-width="1.3"/>
<line x1="206.2" y1="301.4" x2="206.2" y2="324.3" stroke="#2a2a2a" stroke-width="1.15"/>
<line x1="203.1" y1="301.4" x2="209.3" y2="301.4" stroke="#2a2a2a" stroke-width="1.3"/>
<line x1="203.1" y1="324.3" x2="209.3" y2="324.3" stroke="#2a2a2a" stroke-width="1.3"/>
<line x1="216.7" y1="298.3" x2="216.7" y2="310.5" stroke="#2a2a2a" stroke-width="1.15"/>
<line x1="213.6" y1="298.3" x2="219.8" y2="298.3" stroke="#2a2a2a" stroke-width="1.3"/>
<line x1="213.6" y1="310.5" x2="219.8" y2="310.5" stroke="#2a2a2a" stroke-width="1.3"/>
<line x1="216.7" y1="310.5" x2="216.7" y2="335.6" stroke="#2a2a2a" stroke-width="1.15"/>
<line x1="213.6" y1="310.5" x2="219.8" y2="310.5" stroke="#2a2a2a" stroke-width="1.3"/>
<line x1="213.6" y1="335.6" x2="219.8" y2="335.6" stroke="#2a2a2a" stroke-width="1.3"/>
<line x1="232.2" y1="302.4" x2="232.2" y2="318.2" stroke="#2a2a2a" stroke-width="1.15"/>
<line x1="229.1" y1="302.4" x2="235.3" y2="302.4" stroke="#2a2a2a" stroke-width="1.3"/>
<line x1="229.1" y1="318.2" x2="235.3" y2="318.2" stroke="#2a2a2a" stroke-width="1.3"/>
<line x1="236.5" y1="332.5" x2="236.5" y2="339.4" stroke="#2a2a2a" stroke-width="1.15"/>
<line x1="233.4" y1="332.5" x2="239.6" y2="332.5" stroke="#2a2a2a" stroke-width="1.3"/>
<line x1="242.6" y1="300.2" x2="242.6" y2="319.1" stroke="#2a2a2a" stroke-width="1.15"/>
<line x1="239.5" y1="300.2" x2="245.7" y2="300.2" stroke="#2a2a2a" stroke-width="1.3"/>
<line x1="239.5" y1="319.1" x2="245.7" y2="319.1" stroke="#2a2a2a" stroke-width="1.3"/>
<line x1="247.5" y1="313" x2="247.5" y2="337" stroke="#2a2a2a" stroke-width="1.15"/>
<line x1="244.4" y1="337" x2="250.6" y2="337" stroke="#2a2a2a" stroke-width="1.3"/>
<line x1="253.2" y1="305.8" x2="253.2" y2="318.1" stroke="#2a2a2a" stroke-width="1.15"/>
<line x1="250.1" y1="305.8" x2="256.3" y2="305.8" stroke="#2a2a2a" stroke-width="1.3"/>
<line x1="250.1" y1="318.1" x2="256.3" y2="318.1" stroke="#2a2a2a" stroke-width="1.3"/>
<line x1="259" y1="317.4" x2="259" y2="321.7" stroke="#2a2a2a" stroke-width="1.15"/>
<line x1="255.9" y1="317.4" x2="262.1" y2="317.4" stroke="#2a2a2a" stroke-width="1.3"/>
<line x1="263.6" y1="332.4" x2="263.6" y2="339" stroke="#2a2a2a" stroke-width="1.15"/>
<line x1="260.5" y1="332.4" x2="266.7" y2="332.4" stroke="#2a2a2a" stroke-width="1.3"/>
<line x1="278.9" y1="322.5" x2="278.9" y2="335" stroke="#2a2a2a" stroke-width="1.15"/>
<line x1="275.8" y1="322.5" x2="282" y2="322.5" stroke="#2a2a2a" stroke-width="1.3"/>
<line x1="275.8" y1="335" x2="282" y2="335" stroke="#2a2a2a" stroke-width="1.3"/>
<line x1="311.7" y1="318.8" x2="311.7" y2="325.8" stroke="#2a2a2a" stroke-width="1.15"/>
<line x1="308.6" y1="318.8" x2="314.8" y2="318.8" stroke="#2a2a2a" stroke-width="1.3"/>
<line x1="321.7" y1="330.8" x2="321.7" y2="337.1" stroke="#2a2a2a" stroke-width="1.15"/>
<line x1="318.6" y1="330.8" x2="324.8" y2="330.8" stroke="#2a2a2a" stroke-width="1.3"/>
<line x1="333.5" y1="329" x2="333.5" y2="332.6" stroke="#2a2a2a" stroke-width="1.15"/>
<line x1="330.4" y1="329" x2="336.6" y2="329" stroke="#2a2a2a" stroke-width="1.3"/>
<circle cx="91.6" cy="339.6" r="3.25" fill="#5DA0E0" stroke="#111" stroke-width="0.85"/>
<circle cx="108.4" cy="339.6" r="3.25" fill="#5DA0E0" stroke="#111" stroke-width="0.85"/>
<circle cx="163.8" cy="340" r="3.25" fill="#5DA0E0" stroke="#111" stroke-width="0.85"/>
<circle cx="171.1" cy="340" r="3.25" fill="#5DA0E0" stroke="#111" stroke-width="0.85"/>
<circle cx="181.4" cy="331" r="3.25" fill="#5DA0E0" stroke="#111" stroke-width="0.85"/>
<circle cx="186.8" cy="322.3" r="3.25" fill="#5DA0E0" stroke="#111" stroke-width="0.85"/>
<circle cx="196" cy="315.1" r="3.25" fill="#5DA0E0" stroke="#111" stroke-width="0.85"/>
<circle cx="206.2" cy="309.5" r="3.25" fill="#5DA0E0" stroke="#111" stroke-width="0.85"/>
<circle cx="216.7" cy="317.2" r="3.25" fill="#5DA0E0" stroke="#111" stroke-width="0.85"/>
<circle cx="236.5" cy="339.4" r="3.25" fill="#5DA0E0" stroke="#111" stroke-width="0.85"/>
<circle cx="242.6" cy="306.4" r="3.25" fill="#5DA0E0" stroke="#111" stroke-width="0.85"/>
<circle cx="247.5" cy="333.9" r="3.25" fill="#5DA0E0" stroke="#111" stroke-width="0.85"/>
<circle cx="253.2" cy="325.8" r="3.25" fill="#5DA0E0" stroke="#111" stroke-width="0.85"/>
<circle cx="259" cy="321.7" r="3.25" fill="#5DA0E0" stroke="#111" stroke-width="0.85"/>
<circle cx="278.9" cy="339.6" r="3.25" fill="#5DA0E0" stroke="#111" stroke-width="0.85"/>
<circle cx="290.2" cy="340.6" r="3.25" fill="#5DA0E0" stroke="#111" stroke-width="0.85"/>
<circle cx="316.7" cy="330.3" r="3.25" fill="#5DA0E0" stroke="#111" stroke-width="0.85"/>
<circle cx="321.7" cy="339.8" r="3.25" fill="#5DA0E0" stroke="#111" stroke-width="0.85"/>
<circle cx="333.5" cy="341.2" r="3.25" fill="#5DA0E0" stroke="#111" stroke-width="0.85"/>
<circle cx="91.6" cy="341.2" r="3.25" fill="#FFC500" stroke="#111" stroke-width="0.85"/>
<circle cx="96.7" cy="341.4" r="3.25" fill="#FFC500" stroke="#111" stroke-width="0.85"/>
<circle cx="101.8" cy="340.6" r="3.25" fill="#FFC500" stroke="#111" stroke-width="0.85"/>
<circle cx="109.1" cy="340.9" r="3.25" fill="#FFC500" stroke="#111" stroke-width="0.85"/>
<circle cx="112.7" cy="341.4" r="3.25" fill="#FFC500" stroke="#111" stroke-width="0.85"/>
<circle cx="117.8" cy="341" r="3.25" fill="#FFC500" stroke="#111" stroke-width="0.85"/>
<circle cx="123.7" cy="341" r="3.25" fill="#FFC500" stroke="#111" stroke-width="0.85"/>
<circle cx="128.8" cy="341.3" r="3.25" fill="#FFC500" stroke="#111" stroke-width="0.85"/>
<circle cx="133.9" cy="341.3" r="3.25" fill="#FFC500" stroke="#111" stroke-width="0.85"/>
<circle cx="138.3" cy="341.9" r="3.25" fill="#FFC500" stroke="#111" stroke-width="0.85"/>
<circle cx="143.4" cy="341.3" r="3.25" fill="#FFC500" stroke="#111" stroke-width="0.85"/>
<circle cx="148.5" cy="341" r="3.25" fill="#FFC500" stroke="#111" stroke-width="0.85"/>
<circle cx="153.6" cy="341.6" r="3.25" fill="#FFC500" stroke="#111" stroke-width="0.85"/>
<circle cx="158.7" cy="341.6" r="3.25" fill="#FFC500" stroke="#111" stroke-width="0.85"/>
<circle cx="163.8" cy="341.9" r="3.25" fill="#FFC500" stroke="#111" stroke-width="0.85"/>
<circle cx="171.1" cy="341.6" r="3.25" fill="#FFC500" stroke="#111" stroke-width="0.85"/>
<circle cx="176.4" cy="341.2" r="3.25" fill="#FFC500" stroke="#111" stroke-width="0.85"/>
<circle cx="181.6" cy="313.6" r="3.25" fill="#FFC500" stroke="#111" stroke-width="0.85"/>
<circle cx="186.8" cy="317.2" r="3.25" fill="#FFC500" stroke="#111" stroke-width="0.85"/>
<circle cx="190.8" cy="341" r="3.25" fill="#FFC500" stroke="#111" stroke-width="0.85"/>
<circle cx="196" cy="296.2" r="3.25" fill="#FFC500" stroke="#111" stroke-width="0.85"/>
<circle cx="202.8" cy="341.4" r="3.25" fill="#FFC500" stroke="#111" stroke-width="0.85"/>
<circle cx="206.2" cy="312.1" r="3.25" fill="#FFC500" stroke="#111" stroke-width="0.85"/>
<circle cx="216.7" cy="305.4" r="3.25" fill="#FFC500" stroke="#111" stroke-width="0.85"/>
<circle cx="232.2" cy="310" r="3.25" fill="#FFC500" stroke="#111" stroke-width="0.85"/>
<circle cx="242.6" cy="312.8" r="3.25" fill="#FFC500" stroke="#111" stroke-width="0.85"/>
<circle cx="247.5" cy="322.5" r="3.25" fill="#FFC500" stroke="#111" stroke-width="0.85"/>
<circle cx="253.2" cy="311.5" r="3.25" fill="#FFC500" stroke="#111" stroke-width="0.85"/>
<circle cx="259" cy="326.8" r="3.25" fill="#FFC500" stroke="#111" stroke-width="0.85"/>
<circle cx="263.6" cy="339" r="3.25" fill="#FFC500" stroke="#111" stroke-width="0.85"/>
<circle cx="268.2" cy="341.6" r="3.25" fill="#FFC500" stroke="#111" stroke-width="0.85"/>
<circle cx="273.8" cy="341.6" r="3.25" fill="#FFC500" stroke="#111" stroke-width="0.85"/>
<circle cx="278.9" cy="328" r="3.25" fill="#FFC500" stroke="#111" stroke-width="0.85"/>
<circle cx="283.8" cy="341.6" r="3.25" fill="#FFC500" stroke="#111" stroke-width="0.85"/>
<circle cx="290.2" cy="343.1" r="3.25" fill="#FFC500" stroke="#111" stroke-width="0.85"/>
<circle cx="294.6" cy="340.1" r="3.25" fill="#FFC500" stroke="#111" stroke-width="0.85"/>
<circle cx="299.6" cy="340.9" r="3.25" fill="#FFC500" stroke="#111" stroke-width="0.85"/>
<circle cx="305.2" cy="341.8" r="3.25" fill="#FFC500" stroke="#111" stroke-width="0.85"/>
<circle cx="311.7" cy="325.8" r="3.25" fill="#FFC500" stroke="#111" stroke-width="0.85"/>
<circle cx="316.7" cy="335.1" r="3.25" fill="#FFC500" stroke="#111" stroke-width="0.85"/>
<circle cx="321.7" cy="337.1" r="3.25" fill="#FFC500" stroke="#111" stroke-width="0.85"/>
<circle cx="326.9" cy="337.1" r="3.25" fill="#FFC500" stroke="#111" stroke-width="0.85"/>
<circle cx="333.5" cy="332.6" r="3.25" fill="#FFC500" stroke="#111" stroke-width="0.85"/>
<circle cx="336.8" cy="337.8" r="3.25" fill="#FFC500" stroke="#111" stroke-width="0.85"/>
<circle cx="342.5" cy="339.1" r="3.25" fill="#FFC500" stroke="#111" stroke-width="0.85"/>
<circle cx="347.9" cy="341.4" r="3.25" fill="#FFC500" stroke="#111" stroke-width="0.85"/>
<line x1="508.2" y1="320.4" x2="508.2" y2="330.1" stroke="#2a2a2a" stroke-width="1.15"/>
<line x1="505.1" y1="320.4" x2="511.3" y2="320.4" stroke="#2a2a2a" stroke-width="1.3"/>
<line x1="542.7" y1="290.7" x2="542.7" y2="321.4" stroke="#2a2a2a" stroke-width="1.15"/>
<line x1="539.6" y1="290.7" x2="545.8" y2="290.7" stroke="#2a2a2a" stroke-width="1.3"/>
<line x1="539.6" y1="321.4" x2="545.8" y2="321.4" stroke="#2a2a2a" stroke-width="1.3"/>
<line x1="547.5" y1="307.4" x2="547.5" y2="326.5" stroke="#2a2a2a" stroke-width="1.15"/>
<line x1="544.4" y1="307.4" x2="550.6" y2="307.4" stroke="#2a2a2a" stroke-width="1.3"/>
<line x1="558.2" y1="293.1" x2="558.2" y2="327.5" stroke="#2a2a2a" stroke-width="1.15"/>
<line x1="555.1" y1="293.1" x2="561.3" y2="293.1" stroke="#2a2a2a" stroke-width="1.3"/>
<line x1="555.1" y1="327.5" x2="561.3" y2="327.5" stroke="#2a2a2a" stroke-width="1.3"/>
<line x1="568.1" y1="288.7" x2="568.1" y2="325.1" stroke="#2a2a2a" stroke-width="1.15"/>
<line x1="565" y1="288.7" x2="571.2" y2="288.7" stroke="#2a2a2a" stroke-width="1.3"/>
<line x1="573.9" y1="260.5" x2="573.9" y2="336.4" stroke="#2a2a2a" stroke-width="1.15"/>
<line x1="570.8" y1="260.5" x2="577" y2="260.5" stroke="#2a2a2a" stroke-width="1.3"/>
<line x1="570.8" y1="336.4" x2="577" y2="336.4" stroke="#2a2a2a" stroke-width="1.3"/>
<line x1="578.9" y1="266.3" x2="578.9" y2="333.9" stroke="#2a2a2a" stroke-width="1.15"/>
<line x1="575.8" y1="266.3" x2="582" y2="266.3" stroke="#2a2a2a" stroke-width="1.3"/>
<line x1="575.8" y1="333.9" x2="582" y2="333.9" stroke="#2a2a2a" stroke-width="1.3"/>
<line x1="584.9" y1="257.6" x2="584.9" y2="325.2" stroke="#2a2a2a" stroke-width="1.15"/>
<line x1="581.8" y1="257.6" x2="588" y2="257.6" stroke="#2a2a2a" stroke-width="1.3"/>
<line x1="581.8" y1="325.2" x2="588" y2="325.2" stroke="#2a2a2a" stroke-width="1.3"/>
<line x1="589.7" y1="214.9" x2="589.7" y2="313.4" stroke="#2a2a2a" stroke-width="1.15"/>
<line x1="586.6" y1="214.9" x2="592.8" y2="214.9" stroke="#2a2a2a" stroke-width="1.3"/>
<line x1="586.6" y1="313.4" x2="592.8" y2="313.4" stroke="#2a2a2a" stroke-width="1.3"/>
<line x1="594.4" y1="234.4" x2="594.4" y2="319.3" stroke="#2a2a2a" stroke-width="1.15"/>
<line x1="591.3" y1="234.4" x2="597.5" y2="234.4" stroke="#2a2a2a" stroke-width="1.3"/>
<line x1="591.3" y1="319.3" x2="597.5" y2="319.3" stroke="#2a2a2a" stroke-width="1.3"/>
<line x1="599.4" y1="265.3" x2="599.4" y2="325.7" stroke="#2a2a2a" stroke-width="1.15"/>
<line x1="596.3" y1="265.3" x2="602.5" y2="265.3" stroke="#2a2a2a" stroke-width="1.3"/>
<line x1="596.3" y1="325.7" x2="602.5" y2="325.7" stroke="#2a2a2a" stroke-width="1.3"/>
<line x1="605" y1="280" x2="605" y2="330.8" stroke="#2a2a2a" stroke-width="1.15"/>
<line x1="601.9" y1="280" x2="608.1" y2="280" stroke="#2a2a2a" stroke-width="1.3"/>
<line x1="601.9" y1="330.8" x2="608.1" y2="330.8" stroke="#2a2a2a" stroke-width="1.3"/>
<line x1="609.9" y1="320.1" x2="609.9" y2="336.6" stroke="#2a2a2a" stroke-width="1.15"/>
<line x1="606.8" y1="320.1" x2="613" y2="320.1" stroke="#2a2a2a" stroke-width="1.3"/>
<line x1="615.7" y1="297.4" x2="615.7" y2="323.1" stroke="#2a2a2a" stroke-width="1.15"/>
<line x1="612.6" y1="297.4" x2="618.8" y2="297.4" stroke="#2a2a2a" stroke-width="1.3"/>
<line x1="612.6" y1="323.1" x2="618.8" y2="323.1" stroke="#2a2a2a" stroke-width="1.3"/>
<line x1="619.8" y1="307.3" x2="619.8" y2="333.6" stroke="#2a2a2a" stroke-width="1.15"/>
<line x1="616.7" y1="307.3" x2="622.9" y2="307.3" stroke="#2a2a2a" stroke-width="1.3"/>
<line x1="625.4" y1="306.3" x2="625.4" y2="336.1" stroke="#2a2a2a" stroke-width="1.15"/>
<line x1="622.3" y1="306.3" x2="628.5" y2="306.3" stroke="#2a2a2a" stroke-width="1.3"/>
<line x1="631.9" y1="318" x2="631.9" y2="325.1" stroke="#2a2a2a" stroke-width="1.15"/>
<line x1="628.8" y1="318" x2="635" y2="318" stroke="#2a2a2a" stroke-width="1.3"/>
<line x1="637.1" y1="323.7" x2="637.1" y2="329.4" stroke="#2a2a2a" stroke-width="1.15"/>
<line x1="634" y1="323.7" x2="640.2" y2="323.7" stroke="#2a2a2a" stroke-width="1.3"/>
<line x1="647" y1="331.7" x2="647" y2="336.5" stroke="#2a2a2a" stroke-width="1.15"/>
<line x1="643.9" y1="331.7" x2="650.1" y2="331.7" stroke="#2a2a2a" stroke-width="1.3"/>
<line x1="652.3" y1="333.2" x2="652.3" y2="337.4" stroke="#2a2a2a" stroke-width="1.15"/>
<line x1="649.2" y1="333.2" x2="655.4" y2="333.2" stroke="#2a2a2a" stroke-width="1.3"/>
<line x1="586.6" y1="280.1" x2="592.8" y2="280.1" stroke="#2a2a2a" stroke-width="1.3"/>
<line x1="586.6" y1="290.4" x2="592.8" y2="290.4" stroke="#2a2a2a" stroke-width="1.3"/>
<line x1="591.3" y1="294" x2="597.5" y2="294" stroke="#2a2a2a" stroke-width="1.3"/>
<line x1="601.9" y1="316" x2="608.1" y2="316" stroke="#2a2a2a" stroke-width="1.3"/>
<line x1="540" y1="290.8" x2="546.2" y2="290.8" stroke="#2a2a2a" stroke-width="1.3"/>
<circle cx="502.2" cy="340.8" r="3.25" fill="#5DA0E0" stroke="#111" stroke-width="0.85"/>
<circle cx="508.2" cy="330.1" r="3.25" fill="#5DA0E0" stroke="#111" stroke-width="0.85"/>
<circle cx="513.3" cy="333.5" r="3.25" fill="#5DA0E0" stroke="#111" stroke-width="0.85"/>
<circle cx="521.7" cy="326.5" r="3.25" fill="#5DA0E0" stroke="#111" stroke-width="0.85"/>
<circle cx="528.9" cy="343.9" r="3.25" fill="#5DA0E0" stroke="#111" stroke-width="0.85"/>
<circle cx="532.5" cy="330.3" r="3.25" fill="#5DA0E0" stroke="#111" stroke-width="0.85"/>
<circle cx="542.7" cy="311.7" r="3.25" fill="#5DA0E0" stroke="#111" stroke-width="0.85"/>
<circle cx="547.5" cy="326.5" r="3.25" fill="#5DA0E0" stroke="#111" stroke-width="0.85"/>
<circle cx="558.2" cy="320.1" r="3.25" fill="#5DA0E0" stroke="#111" stroke-width="0.85"/>
<circle cx="562.4" cy="342.3" r="3.25" fill="#5DA0E0" stroke="#111" stroke-width="0.85"/>
<circle cx="568.1" cy="325.1" r="3.25" fill="#5DA0E0" stroke="#111" stroke-width="0.85"/>
<circle cx="573.1" cy="331.5" r="3.25" fill="#5DA0E0" stroke="#111" stroke-width="0.85"/>
<circle cx="578.4" cy="325.2" r="3.25" fill="#5DA0E0" stroke="#111" stroke-width="0.85"/>
<circle cx="584.5" cy="317.8" r="3.25" fill="#5DA0E0" stroke="#111" stroke-width="0.85"/>
<circle cx="589.6" cy="301.5" r="3.25" fill="#5DA0E0" stroke="#111" stroke-width="0.85"/>
<circle cx="594.2" cy="305.8" r="3.25" fill="#5DA0E0" stroke="#111" stroke-width="0.85"/>
<circle cx="598.8" cy="315" r="3.25" fill="#5DA0E0" stroke="#111" stroke-width="0.85"/>
<circle cx="604.8" cy="322.9" r="3.25" fill="#5DA0E0" stroke="#111" stroke-width="0.85"/>
<circle cx="609.9" cy="336.6" r="3.25" fill="#5DA0E0" stroke="#111" stroke-width="0.85"/>
<circle cx="615.2" cy="331.3" r="3.25" fill="#5DA0E0" stroke="#111" stroke-width="0.85"/>
<circle cx="619.8" cy="333.6" r="3.25" fill="#5DA0E0" stroke="#111" stroke-width="0.85"/>
<circle cx="624.9" cy="336.1" r="3.25" fill="#5DA0E0" stroke="#111" stroke-width="0.85"/>
<circle cx="631.9" cy="337.9" r="3.25" fill="#5DA0E0" stroke="#111" stroke-width="0.85"/>
<circle cx="637.1" cy="340.3" r="3.25" fill="#5DA0E0" stroke="#111" stroke-width="0.85"/>
<circle cx="641.8" cy="343.1" r="3.25" fill="#5DA0E0" stroke="#111" stroke-width="0.85"/>
<circle cx="647" cy="341.7" r="3.25" fill="#5DA0E0" stroke="#111" stroke-width="0.85"/>
<circle cx="652.3" cy="341.2" r="3.25" fill="#5DA0E0" stroke="#111" stroke-width="0.85"/>
<circle cx="658.4" cy="340.8" r="3.25" fill="#5DA0E0" stroke="#111" stroke-width="0.85"/>
<circle cx="667.6" cy="344" r="3.25" fill="#5DA0E0" stroke="#111" stroke-width="0.85"/>
<circle cx="672.7" cy="341.2" r="3.25" fill="#5DA0E0" stroke="#111" stroke-width="0.85"/>
<circle cx="418.1" cy="343.8" r="3.25" fill="#FFC500" stroke="#111" stroke-width="0.85"/>
<circle cx="423" cy="343.6" r="3.25" fill="#FFC500" stroke="#111" stroke-width="0.85"/>
<circle cx="428.4" cy="343.8" r="3.25" fill="#FFC500" stroke="#111" stroke-width="0.85"/>
<circle cx="433.9" cy="343.8" r="3.25" fill="#FFC500" stroke="#111" stroke-width="0.85"/>
<circle cx="438.3" cy="343.8" r="3.25" fill="#FFC500" stroke="#111" stroke-width="0.85"/>
<circle cx="444.4" cy="343.8" r="3.25" fill="#FFC500" stroke="#111" stroke-width="0.85"/>
<circle cx="450" cy="343.8" r="3.25" fill="#FFC500" stroke="#111" stroke-width="0.85"/>
<circle cx="454.8" cy="343.8" r="3.25" fill="#FFC500" stroke="#111" stroke-width="0.85"/>
<circle cx="460.2" cy="343.8" r="3.25" fill="#FFC500" stroke="#111" stroke-width="0.85"/>
<circle cx="464.8" cy="343.8" r="3.25" fill="#FFC500" stroke="#111" stroke-width="0.85"/>
<circle cx="469.7" cy="343.8" r="3.25" fill="#FFC500" stroke="#111" stroke-width="0.85"/>
<circle cx="474.5" cy="343.8" r="3.25" fill="#FFC500" stroke="#111" stroke-width="0.85"/>
<circle cx="479.6" cy="343.8" r="3.25" fill="#FFC500" stroke="#111" stroke-width="0.85"/>
<circle cx="485" cy="343.8" r="3.25" fill="#FFC500" stroke="#111" stroke-width="0.85"/>
<circle cx="490.8" cy="343.8" r="3.25" fill="#FFC500" stroke="#111" stroke-width="0.85"/>
<circle cx="496.7" cy="343.8" r="3.25" fill="#FFC500" stroke="#111" stroke-width="0.85"/>
<circle cx="502.2" cy="343.9" r="3.25" fill="#FFC500" stroke="#111" stroke-width="0.85"/>
<circle cx="508.2" cy="343.9" r="3.25" fill="#FFC500" stroke="#111" stroke-width="0.85"/>
<circle cx="513.3" cy="335.7" r="3.25" fill="#FFC500" stroke="#111" stroke-width="0.85"/>
<circle cx="516.9" cy="342.1" r="3.25" fill="#FFC500" stroke="#111" stroke-width="0.85"/>
<circle cx="521.7" cy="328.8" r="3.25" fill="#FFC500" stroke="#111" stroke-width="0.85"/>
<circle cx="528.9" cy="340.3" r="3.25" fill="#FFC500" stroke="#111" stroke-width="0.85"/>
<circle cx="532.5" cy="325" r="3.25" fill="#FFC500" stroke="#111" stroke-width="0.85"/>
<circle cx="542.7" cy="302" r="3.25" fill="#FFC500" stroke="#111" stroke-width="0.85"/>
<circle cx="547.5" cy="316.6" r="3.25" fill="#FFC500" stroke="#111" stroke-width="0.85"/>
<circle cx="558.2" cy="310.1" r="3.25" fill="#FFC500" stroke="#111" stroke-width="0.85"/>
<circle cx="562.4" cy="332.9" r="3.25" fill="#FFC500" stroke="#111" stroke-width="0.85"/>
<circle cx="568.1" cy="310.1" r="3.25" fill="#FFC500" stroke="#111" stroke-width="0.85"/>
<circle cx="573.1" cy="290.7" r="3.25" fill="#FFC500" stroke="#111" stroke-width="0.85"/>
<circle cx="578.4" cy="292.9" r="3.25" fill="#FFC500" stroke="#111" stroke-width="0.85"/>
<circle cx="584.6" cy="285.7" r="3.25" fill="#FFC500" stroke="#111" stroke-width="0.85"/>
<circle cx="589.7" cy="247" r="3.25" fill="#FFC500" stroke="#111" stroke-width="0.85"/>
<circle cx="594.1" cy="265.8" r="3.25" fill="#FFC500" stroke="#111" stroke-width="0.85"/>
<circle cx="598.7" cy="285.8" r="3.25" fill="#FFC500" stroke="#111" stroke-width="0.85"/>
<circle cx="605" cy="297.4" r="3.25" fill="#FFC500" stroke="#111" stroke-width="0.85"/>
<circle cx="609.9" cy="326" r="3.25" fill="#FFC500" stroke="#111" stroke-width="0.85"/>
<circle cx="615.7" cy="310.1" r="3.25" fill="#FFC500" stroke="#111" stroke-width="0.85"/>
<circle cx="619.8" cy="318" r="3.25" fill="#FFC500" stroke="#111" stroke-width="0.85"/>
<circle cx="624.9" cy="325.3" r="3.25" fill="#FFC500" stroke="#111" stroke-width="0.85"/>
<circle cx="631.9" cy="325.1" r="3.25" fill="#FFC500" stroke="#111" stroke-width="0.85"/>
<circle cx="637.1" cy="329.4" r="3.25" fill="#FFC500" stroke="#111" stroke-width="0.85"/>
<circle cx="641.8" cy="338.9" r="3.25" fill="#FFC500" stroke="#111" stroke-width="0.85"/>
<circle cx="647" cy="336.5" r="3.25" fill="#FFC500" stroke="#111" stroke-width="0.85"/>
<circle cx="652.3" cy="337.4" r="3.25" fill="#FFC500" stroke="#111" stroke-width="0.85"/>
<circle cx="658.4" cy="344.4" r="3.25" fill="#FFC500" stroke="#111" stroke-width="0.85"/>
<circle cx="661.9" cy="340.8" r="3.25" fill="#FFC500" stroke="#111" stroke-width="0.85"/>
<circle cx="667.6" cy="341.2" r="3.25" fill="#FFC500" stroke="#111" stroke-width="0.85"/>
<circle cx="672.7" cy="343.6" r="3.25" fill="#FFC500" stroke="#111" stroke-width="0.85"/>
<clipPath id="ce"><rect x="85.5" y="365.5" width="270" height="149.5"/></clipPath>
<g clip-path="url(#ce)">
<polyline points="86.2,453.6 88.7,453 90.6,459.8 92.5,454.8 94.7,423.7 96.8,434.9 98.7,438.6 101.2,448.6 103.7,459.8 107.2,469.8 108.7,427.4 110.6,432.4 111.8,427.4 114.3,426.1 116.2,433.6 118,437.4 120.5,390 121.8,407.4 123.7,408.7 125.5,423.7 128,417.4 129.9,411.2 131.8,416.2 133.6,398.7 135.6,397.5 137.5,430 139.4,441.1 143.1,391.9 146.2,437.4 148.7,438.6 151.2,442.4 154.9,439.9 157.4,444.9 161.2,449.8 163,451.1 164.9,418.7 167.4,443.6 169.9,439.9 171.1,411.2 173,411.8 174.3,422.4 175.5,421.2 177.4,434.9 179.4,407.4 181.2,434.9 183.1,439.9 185,434.9 186.8,439.9 189.3,442.4 191.2,446.1 193.7,448.6 195.6,452.3 197.4,448.6 199.9,449.8 201.8,447.3 203.7,454.8 206.2,459.8 208,466 210.5,468.5 212.4,469.8 214.9,458.6 216.8,457.3 218,439.9 219.9,464.8 222.4,484.8 223.9,501.8 225.2,499.2 226.5,475.7 228.5,483.6 230.4,483.6 232.4,491.4 233.7,503.1 235,494 236.3,478.3 238,409.1 239.6,444.4 241.5,452.2 242.8,445.7 244.5,440.5 246.1,452.2 247.4,431.3 249.4,422.8 250.7,439.2 252.6,422.2 253.9,437.9 255.2,409.8 257.2,418.3 258.5,439.2 260.5,445.7 262.4,445.7 264.4,448.3 265.5,408.6 266.8,434.9 268.2,428.6 269.5,437.6 271.4,427.7 272.7,435.8 274.1,434.9 275.4,433.1 276.8,437.6 278.6,440.4 280.4,442.2 282.2,445.8 284.1,447.6 285,450.4 286.8,424 288.8,412.7 290,433.1 291.8,437.6 293.3,424 294.9,434.9 296.8,443.1 298.6,444.5 300.4,441.3 302.2,430.4 303.6,430.4 304.9,437.6 306.7,434 308.1,421.3 309.9,424.9 311.3,438.6 312.7,434.9 314.1,424 315.4,434.9 316.8,435.8 318.3,409.1 319.5,431.3 320.9,433.1 322.3,434.9 323.4,417.7 324.5,422.2 325.9,431.3 327.2,433.1 328.6,429.5 330,433.1 331.8,434.9 333.1,436.7 334.5,437.6 335.4,424 336.8,423.1 338.1,424.9 339.5,417.7 340.9,416.8 342.2,415.9 343.6,429.5 344.9,430.4 345.8,431.3 347.2,424 348.6,425.9 349.9,434.9 351.3,435.8 351.7,423.1 353.1,424.9 354.5,418.6" fill="none" stroke="#1EDAF3" stroke-width="3" stroke-linejoin="round" stroke-linecap="round"/>
<polyline points="86.2,469.8 88.7,468.5 90.6,474.8 93.1,471 95,446.1 96.8,449.8 98.7,456.1 101.2,469.8 103.7,481 107.4,487.2 110,459.8 111.8,451.1 114.3,439.9 116.8,447.3 119.3,452.3 120.5,406.2 121.2,437.4 123.7,419.9 125.5,433.6 128,438.6 129.9,417.4 131.9,427.4 133.7,431.8 135.6,411.2 137.5,444.9 139.7,455.4 141.2,449.8 143.1,406.8 145,434.9 146.2,443.6 148.7,451.1 151.8,453.6 154.9,453 156.8,457.3 159.9,462.3 161.4,466.7 163,457.3 165.2,438.6 166.8,451.1 169.3,452.3 171.1,431.1 173,430.5 174.3,439.9 176.1,437.4 177.4,448.6 179.4,428.6 181.2,444.9 183.7,456.1 185.6,452.3 188.1,454.8 190,459.8 192.5,461.1 195,469.8 196.8,457.3 198.7,469.8 201.2,464.8 203.1,472.3 204.9,469.8 207.4,479.8 209.9,481 212.4,484.8 213.7,462.3 216.1,458.6 218,457.3 219.9,474.8 222.4,492.2 223.9,503.1 225.9,499.2 226.5,483.6 228.5,490.1 230.4,486.2 232.4,495.3 233.7,505.7 235.4,499.2 237,492.7 238.3,491.4 238.9,432.6 240.9,461.4 242.8,466.6 244.2,454.8 245.5,462.7 247.2,473.8 248.1,456.1 250,441.8 251.3,457.4 253.3,433.9 254.6,450.9 255.9,417 257.9,418.3 259.2,448.3 261.1,449.6 263.1,452.2 265,454.8 265.7,418.9 265.9,455.8 267.3,441.3 269.1,447.6 270.9,451.3 272.3,442.2 273.6,447.6 275.4,444.9 276.8,445.8 278.6,449.4 280.4,453.1 282.7,457.6 285,460.8 286.8,449.4 288.8,432.2 290.4,446.7 291.8,444.9 293.1,440.4 295,449.4 297.2,455.8 299,449.4 301.3,446.7 302.7,443.1 304,448.5 306.3,447.6 308.1,435.8 309.5,442.2 311.3,447.6 313.6,439.5 315.4,444.9 316.8,444 318.3,424.9 319.5,437.6 320.9,442.2 322.3,440.4 323.4,430.4 325,440.4 326.3,445.8 328.1,444 330,445.8 331.8,446.7 333.6,448.1 335.4,445.8 337.2,444.9 339,445.8 340.4,438.6 342.2,434 343.6,441.3 344.9,442.2 346.3,443.1 347.7,442.2 349,444.9 350.8,447.6 352.2,441.3 353.6,442.2 354.5,438.6" fill="none" stroke="#5A98D6" stroke-width="3" stroke-linejoin="round" stroke-linecap="round"/>
</g>
<clipPath id="cf"><rect x="412.3" y="365.5" width="269.9" height="149.5"/></clipPath>
<g clip-path="url(#cf)">
<polyline points="411.9,467.3 413.7,468.6 415.6,477.3 417.5,474.8 418.7,472.3 420,441.2 421.8,447.4 423.7,452.4 426.2,464.9 428.7,478.6 430.6,486.1 432.4,489.8 433.7,486.1 434.9,467.3 436.8,456.1 438.1,451.1 438.9,401.9 441.2,408.7 443,417.5 444.9,420 446.2,395 447.4,403.8 448.7,401.3 449.9,394.4 451.8,402.5 453,406.3 454.3,396.3 456.1,396.9 458.6,397.5 460.5,396.9 462.1,400 463,436.2 464.2,449.9 465.5,447.4 466.4,423.7 467.4,393.8 469.1,399.6 470.1,393.4 471.1,399.6 472.7,395.5 474.2,400.6 475.7,407.7 477.2,412.8 479.3,415.9 480.8,422 482.9,427.1 484.9,433.2 486.4,437.3 487.4,397.5 489,396.5 490.5,398.5 492,406.7 493.6,411.8 495.1,414.9 496.6,395.5 498.7,394.5 500.2,397.5 501.2,443.4 502.8,434.3 504.3,409.8 505.8,423 507.9,437.3 509.4,444.5 511.4,421 513,433.2 514.5,440.4 515.5,444.5 517,421 518.6,431.2 520.1,439.4 521.1,422 522.2,396.5 523.6,416.9 524.6,447.5 526.1,455.7 527.3,458.7 528.7,425.1 530.2,422 531.7,425.1 533.3,421 534.8,423 535.8,435.3 537.3,434.3 538.9,395.5 540.4,395.5 541.4,406.7 542.4,433.2 544,422 545,438.3 546.5,447.5 548.1,453.6 549.6,432.2 551.1,425.1 552.7,427.1 554.2,426.1 555.2,430.2 556.7,442.4 558.3,451.6 560.3,456.7 561.8,453.6 562.9,451.6 563.4,406.7 564.9,425.1 566.4,431.2 567.4,434.3 569.5,420 571,431.2 572.6,435.3 574.1,420 575.6,414.9 576.6,409.8 577.7,392.4 579.1,392.4 580.1,390.4 581.1,393.4 582.7,393.4 584.2,394.5 585.7,393.4 587.2,399.6 588.8,404.7 589.8,416.9 590.8,392.4 592.3,394.5 593.9,395.5 594.9,411.8 595.9,419 597.4,416.9 598.5,397.5 600,398.5 601.5,402.6 603.1,408.7 604.6,419 606.1,429.2 607.7,435.3 609.2,437.3 611.2,436.3 612.8,433.2 613.8,408.7 615.3,415.9 615.8,402.6 616.8,417.9 618.9,409.8 619.9,437.3 621.4,444.5 622.4,448.5 623.5,416.9 625,401.6 626,419 627.6,404.7 629.1,406.7 630.6,413.9 632.1,410.8 633.4,398.5 634.6,400.6 636.1,399.6 637.7,404.7 638.7,402.6 639.7,395.5 641.7,396.5 643.8,394.5 645.8,396.5 647.9,396.5 649.9,397.5 650.9,405.7 652.4,408.7 654,405.7 655.5,412.8 657,419 658.6,424.1 660.1,419 661.6,420 662.7,399.6 664.2,395.5 666.2,395.5 668.3,396.5 669.8,397.5 671.3,402.6 672.3,425.1 673.9,431.2 675.4,438.3 676.4,445.5 677.4,429.2 678,406.7 679.5,402.6 680.5,401.6" fill="none" stroke="#1EDAF3" stroke-width="3" stroke-linejoin="round" stroke-linecap="round"/>
<polyline points="411.9,466 413.7,467.3 415.6,476 417.5,473.5 418.7,471 420,439.9 421.8,446.1 423.7,451.1 426.2,463.6 428.7,477.3 430.6,484.8 432.4,488.5 433.7,484.8 434.9,466 436.8,454.8 438.1,449.8 438.9,400.6 441.2,407.4 443,416.2 444.9,418.7 446.2,393.7 447.4,402.5 448.7,400 449.9,393.1 451.8,401.2 453,405 454.3,395 456.1,395.6 458.6,396.2 460.5,395.6 462.1,398.7 463,434.9 464.2,448.6 465.5,446.1 466.4,422.4 467.4,392.5 469.1,398.3 470.1,392.1 471.1,398.3 472.7,394.2 474.2,399.3 475.7,406.4 477.2,411.5 479.3,414.6 480.8,420.7 482.9,425.8 484.9,431.9 486.4,436 487.4,396.2 489,395.2 490.5,397.2 492,405.4 493.6,410.5 495.1,413.6 496.6,394.2 498.7,393.2 500.2,396.2 501.2,442.1 502.8,433 504.3,408.5 505.8,421.7 507.9,436 509.4,443.2 511.4,419.7 513,431.9 514.5,439.1 515.5,443.2 517,419.7 518.6,429.9 520.1,438.1 521.1,420.7 522.2,395.2 523.6,415.6 524.6,446.2 526.1,454.4 527.3,457.4 528.7,423.8 530.2,420.7 531.7,423.8 533.3,419.7 534.8,421.7 535.8,434 537.3,433 538.9,394.2 540.4,394.2 541.4,405.4 542.4,431.9 544,420.7 545,437 546.5,446.2 548.1,452.3 549.6,430.9 551.1,423.8 552.7,425.8 554.2,424.8 555.2,428.9 556.7,441.1 558.3,450.3 560.3,455.4 561.8,452.3 562.9,450.3 563.4,405.4 564.9,423.8 566.4,429.9 567.4,433 569.5,418.7 571,429.9 572.6,434 574.1,418.7 575.6,413.6 576.6,408.5 577.7,391.1 579.1,391.1 580.1,389.1 581.1,392.1 582.7,392.1 584.2,393.2 585.7,392.1 587.2,398.3 588.8,403.4 589.8,415.6 590.8,391.1 592.3,393.2 593.9,394.2 594.9,410.5 595.9,417.7 597.4,415.6 598.5,396.2 600,397.2 601.5,401.3 603.1,407.4 604.6,417.7 606.1,427.9 607.7,434 609.2,436 611.2,435 612.8,431.9 613.8,407.4 615.3,414.6 615.8,401.3 616.8,416.6 618.9,408.5 619.9,436 621.4,443.2 622.4,447.2 623.5,415.6 625,400.3 626,417.7 627.6,403.4 629.1,405.4 630.6,412.6 632.1,409.5 633.4,397.2 634.6,399.3 636.1,398.3 637.7,403.4 638.7,401.3 639.7,394.2 641.7,395.2 643.8,393.2 645.8,395.2 647.9,395.2 649.9,396.2 650.9,404.4 652.4,407.4 654,404.4 655.5,411.5 657,417.7 658.6,422.8 660.1,417.7 661.6,418.7 662.7,398.3 664.2,394.2 666.2,394.2 668.3,395.2 669.8,396.2 671.3,401.3 672.3,423.8 673.9,429.9 675.4,437 676.4,444.2 677.4,427.9 678,405.4 679.5,401.3 680.5,400.3" fill="none" stroke="#5A98D6" stroke-width="3" stroke-linejoin="round" stroke-linecap="round"/>
</g>
<line x1="108.6" y1="556.8" x2="108.6" y2="674.5" stroke="#2a2a2a" stroke-width="1.15"/>
<line x1="105.5" y1="556.8" x2="111.7" y2="556.8" stroke="#2a2a2a" stroke-width="1.3"/>
<line x1="105.5" y1="674.5" x2="111.7" y2="674.5" stroke="#2a2a2a" stroke-width="1.3"/>
<line x1="108.8" y1="610.4" x2="108.8" y2="637" stroke="#2a2a2a" stroke-width="1.15"/>
<line x1="105.7" y1="610.4" x2="111.9" y2="610.4" stroke="#2a2a2a" stroke-width="1.3"/>
<line x1="105.7" y1="637" x2="111.9" y2="637" stroke="#2a2a2a" stroke-width="1.3"/>
<line x1="113.5" y1="601.3" x2="113.5" y2="646.7" stroke="#2a2a2a" stroke-width="1.15"/>
<line x1="110.4" y1="601.3" x2="116.6" y2="601.3" stroke="#2a2a2a" stroke-width="1.3"/>
<line x1="110.4" y1="646.7" x2="116.6" y2="646.7" stroke="#2a2a2a" stroke-width="1.3"/>
<line x1="117.9" y1="614.7" x2="117.9" y2="675.6" stroke="#2a2a2a" stroke-width="1.15"/>
<line x1="114.8" y1="614.7" x2="121" y2="614.7" stroke="#2a2a2a" stroke-width="1.3"/>
<line x1="114.8" y1="675.6" x2="121" y2="675.6" stroke="#2a2a2a" stroke-width="1.3"/>
<line x1="124.7" y1="633.4" x2="124.7" y2="675" stroke="#2a2a2a" stroke-width="1.15"/>
<line x1="121.6" y1="633.4" x2="127.8" y2="633.4" stroke="#2a2a2a" stroke-width="1.3"/>
<line x1="121.6" y1="675" x2="127.8" y2="675" stroke="#2a2a2a" stroke-width="1.3"/>
<line x1="143.7" y1="657.5" x2="143.7" y2="666.5" stroke="#2a2a2a" stroke-width="1.15"/>
<line x1="140.6" y1="657.5" x2="146.8" y2="657.5" stroke="#2a2a2a" stroke-width="1.3"/>
<line x1="289.1" y1="614.3" x2="289.1" y2="643.5" stroke="#2a2a2a" stroke-width="1.15"/>
<line x1="286" y1="614.3" x2="292.2" y2="614.3" stroke="#2a2a2a" stroke-width="1.3"/>
<line x1="286" y1="643.5" x2="292.2" y2="643.5" stroke="#2a2a2a" stroke-width="1.3"/>
<line x1="106.9" y1="646.7" x2="113.1" y2="646.7" stroke="#2a2a2a" stroke-width="1.3"/>
<line x1="286" y1="641.3" x2="292.2" y2="641.3" stroke="#2a2a2a" stroke-width="1.3"/>
<line x1="117.4" y1="662.6" x2="123.6" y2="662.6" stroke="#2a2a2a" stroke-width="1.3"/>
<line x1="118.9" y1="666.5" x2="125.1" y2="666.5" stroke="#2a2a2a" stroke-width="1.3"/>
<circle cx="96.9" cy="681.5" r="3.25" fill="#5DA0E0" stroke="#111" stroke-width="0.85"/>
<circle cx="102" cy="674.5" r="3.25" fill="#5DA0E0" stroke="#111" stroke-width="0.85"/>
<circle cx="107.1" cy="659.7" r="3.25" fill="#5DA0E0" stroke="#111" stroke-width="0.85"/>
<circle cx="109.4" cy="661.4" r="3.25" fill="#5DA0E0" stroke="#111" stroke-width="0.85"/>
<circle cx="112.6" cy="655.5" r="3.25" fill="#5DA0E0" stroke="#111" stroke-width="0.85"/>
<circle cx="117.9" cy="645" r="3.25" fill="#5DA0E0" stroke="#111" stroke-width="0.85"/>
<circle cx="124.5" cy="649.2" r="3.25" fill="#5DA0E0" stroke="#111" stroke-width="0.85"/>
<circle cx="138.3" cy="674.5" r="3.25" fill="#5DA0E0" stroke="#111" stroke-width="0.85"/>
<circle cx="143.7" cy="666.5" r="3.25" fill="#5DA0E0" stroke="#111" stroke-width="0.85"/>
<circle cx="215.7" cy="679.8" r="3.25" fill="#5DA0E0" stroke="#111" stroke-width="0.85"/>
<circle cx="230.3" cy="683.5" r="3.25" fill="#5DA0E0" stroke="#111" stroke-width="0.85"/>
<circle cx="251.5" cy="677.1" r="3.25" fill="#5DA0E0" stroke="#111" stroke-width="0.85"/>
<circle cx="257.3" cy="675.9" r="3.25" fill="#5DA0E0" stroke="#111" stroke-width="0.85"/>
<circle cx="267.6" cy="673.3" r="3.25" fill="#5DA0E0" stroke="#111" stroke-width="0.85"/>
<circle cx="289.1" cy="634.2" r="3.25" fill="#5DA0E0" stroke="#111" stroke-width="0.85"/>
<circle cx="315.3" cy="675.4" r="3.25" fill="#5DA0E0" stroke="#111" stroke-width="0.85"/>
<circle cx="320.5" cy="675.9" r="3.25" fill="#5DA0E0" stroke="#111" stroke-width="0.85"/>
<circle cx="335.7" cy="679.2" r="3.25" fill="#5DA0E0" stroke="#111" stroke-width="0.85"/>
<circle cx="91.8" cy="678.4" r="3.25" fill="#FFC500" stroke="#111" stroke-width="0.85"/>
<circle cx="96.9" cy="680.1" r="3.25" fill="#FFC500" stroke="#111" stroke-width="0.85"/>
<circle cx="102" cy="671.4" r="3.25" fill="#FFC500" stroke="#111" stroke-width="0.85"/>
<circle cx="107.7" cy="601.3" r="3.25" fill="#FFC500" stroke="#111" stroke-width="0.85"/>
<circle cx="108.8" cy="623.4" r="3.25" fill="#FFC500" stroke="#111" stroke-width="0.85"/>
<circle cx="112.8" cy="622.1" r="3.25" fill="#FFC500" stroke="#111" stroke-width="0.85"/>
<circle cx="117.9" cy="664.3" r="3.25" fill="#FFC500" stroke="#111" stroke-width="0.85"/>
<circle cx="124.1" cy="669.4" r="3.25" fill="#FFC500" stroke="#111" stroke-width="0.85"/>
<circle cx="128.1" cy="680.7" r="3.25" fill="#FFC500" stroke="#111" stroke-width="0.85"/>
<circle cx="133.2" cy="681.6" r="3.25" fill="#FFC500" stroke="#111" stroke-width="0.85"/>
<circle cx="138.3" cy="680.1" r="3.25" fill="#FFC500" stroke="#111" stroke-width="0.85"/>
<circle cx="143.7" cy="674.2" r="3.25" fill="#FFC500" stroke="#111" stroke-width="0.85"/>
<circle cx="147.9" cy="682.4" r="3.25" fill="#FFC500" stroke="#111" stroke-width="0.85"/>
<circle cx="152.9" cy="681.6" r="3.25" fill="#FFC500" stroke="#111" stroke-width="0.85"/>
<circle cx="158.8" cy="683" r="3.25" fill="#FFC500" stroke="#111" stroke-width="0.85"/>
<circle cx="164.3" cy="681.7" r="3.25" fill="#FFC500" stroke="#111" stroke-width="0.85"/>
<circle cx="170.4" cy="682" r="3.25" fill="#FFC500" stroke="#111" stroke-width="0.85"/>
<circle cx="175.5" cy="682" r="3.25" fill="#FFC500" stroke="#111" stroke-width="0.85"/>
<circle cx="180.7" cy="682" r="3.25" fill="#FFC500" stroke="#111" stroke-width="0.85"/>
<circle cx="185.8" cy="680.8" r="3.25" fill="#FFC500" stroke="#111" stroke-width="0.85"/>
<circle cx="190.1" cy="682.3" r="3.25" fill="#FFC500" stroke="#111" stroke-width="0.85"/>
<circle cx="195.3" cy="682" r="3.25" fill="#FFC500" stroke="#111" stroke-width="0.85"/>
<circle cx="201.1" cy="682" r="3.25" fill="#FFC500" stroke="#111" stroke-width="0.85"/>
<circle cx="205.2" cy="682" r="3.25" fill="#FFC500" stroke="#111" stroke-width="0.85"/>
<circle cx="215.7" cy="675.7" r="3.25" fill="#FFC500" stroke="#111" stroke-width="0.85"/>
<circle cx="221.1" cy="681" r="3.25" fill="#FFC500" stroke="#111" stroke-width="0.85"/>
<circle cx="230.3" cy="681" r="3.25" fill="#FFC500" stroke="#111" stroke-width="0.85"/>
<circle cx="236.1" cy="680.8" r="3.25" fill="#FFC500" stroke="#111" stroke-width="0.85"/>
<circle cx="241.7" cy="676.9" r="3.25" fill="#FFC500" stroke="#111" stroke-width="0.85"/>
<circle cx="246.4" cy="680.5" r="3.25" fill="#FFC500" stroke="#111" stroke-width="0.85"/>
<circle cx="251.5" cy="681.2" r="3.25" fill="#FFC500" stroke="#111" stroke-width="0.85"/>
<circle cx="257.3" cy="679.5" r="3.25" fill="#FFC500" stroke="#111" stroke-width="0.85"/>
<circle cx="262.7" cy="680.3" r="3.25" fill="#FFC500" stroke="#111" stroke-width="0.85"/>
<circle cx="267.6" cy="678.7" r="3.25" fill="#FFC500" stroke="#111" stroke-width="0.85"/>
<circle cx="272.5" cy="682.5" r="3.25" fill="#FFC500" stroke="#111" stroke-width="0.85"/>
<circle cx="277.4" cy="681.5" r="3.25" fill="#FFC500" stroke="#111" stroke-width="0.85"/>
<circle cx="282.6" cy="681.5" r="3.25" fill="#FFC500" stroke="#111" stroke-width="0.85"/>
<circle cx="289.1" cy="626.9" r="3.25" fill="#FFC500" stroke="#111" stroke-width="0.85"/>
<circle cx="293.2" cy="677.1" r="3.25" fill="#FFC500" stroke="#111" stroke-width="0.85"/>
<circle cx="298.1" cy="680.8" r="3.25" fill="#FFC500" stroke="#111" stroke-width="0.85"/>
<circle cx="304.7" cy="682.5" r="3.25" fill="#FFC500" stroke="#111" stroke-width="0.85"/>
<circle cx="310.4" cy="679.9" r="3.25" fill="#FFC500" stroke="#111" stroke-width="0.85"/>
<circle cx="315.3" cy="679.2" r="3.25" fill="#FFC500" stroke="#111" stroke-width="0.85"/>
<circle cx="320.5" cy="678.7" r="3.25" fill="#FFC500" stroke="#111" stroke-width="0.85"/>
<circle cx="325.4" cy="681.2" r="3.25" fill="#FFC500" stroke="#111" stroke-width="0.85"/>
<circle cx="330.8" cy="682.5" r="3.25" fill="#FFC500" stroke="#111" stroke-width="0.85"/>
<circle cx="335.7" cy="682.5" r="3.25" fill="#FFC500" stroke="#111" stroke-width="0.85"/>
<circle cx="341.1" cy="682" r="3.25" fill="#FFC500" stroke="#111" stroke-width="0.85"/>
<circle cx="346.4" cy="681.5" r="3.25" fill="#FFC500" stroke="#111" stroke-width="0.85"/>
<line x1="436.5" y1="533.8" x2="436.5" y2="663.2" stroke="#2a2a2a" stroke-width="1.15"/>
<line x1="435.2" y1="591.4" x2="435.2" y2="612.3" stroke="#2a2a2a" stroke-width="1.15"/>
<line x1="432.1" y1="591.4" x2="438.3" y2="591.4" stroke="#2a2a2a" stroke-width="1.3"/>
<line x1="432.1" y1="612.3" x2="438.3" y2="612.3" stroke="#2a2a2a" stroke-width="1.3"/>
<line x1="435.2" y1="627" x2="435.2" y2="649.2" stroke="#2a2a2a" stroke-width="1.15"/>
<line x1="432.1" y1="627" x2="438.3" y2="627" stroke="#2a2a2a" stroke-width="1.3"/>
<line x1="432.1" y1="649.2" x2="438.3" y2="649.2" stroke="#2a2a2a" stroke-width="1.3"/>
<line x1="444.7" y1="635.9" x2="444.7" y2="673.5" stroke="#2a2a2a" stroke-width="1.15"/>
<line x1="441.6" y1="635.9" x2="447.8" y2="635.9" stroke="#2a2a2a" stroke-width="1.3"/>
<line x1="441.6" y1="673.5" x2="447.8" y2="673.5" stroke="#2a2a2a" stroke-width="1.3"/>
<line x1="451.4" y1="630" x2="451.4" y2="669" stroke="#2a2a2a" stroke-width="1.15"/>
<line x1="448.3" y1="630" x2="454.5" y2="630" stroke="#2a2a2a" stroke-width="1.3"/>
<line x1="448.3" y1="669" x2="454.5" y2="669" stroke="#2a2a2a" stroke-width="1.3"/>
<line x1="455" y1="665.4" x2="455" y2="671.3" stroke="#2a2a2a" stroke-width="1.15"/>
<line x1="451.9" y1="665.4" x2="458.1" y2="665.4" stroke="#2a2a2a" stroke-width="1.3"/>
<line x1="465.3" y1="668.8" x2="465.3" y2="674.2" stroke="#2a2a2a" stroke-width="1.15"/>
<line x1="462.2" y1="668.8" x2="468.4" y2="668.8" stroke="#2a2a2a" stroke-width="1.3"/>
<line x1="543.2" y1="621.4" x2="543.2" y2="656.5" stroke="#2a2a2a" stroke-width="1.15"/>
<line x1="540.1" y1="621.4" x2="546.3" y2="621.4" stroke="#2a2a2a" stroke-width="1.3"/>
<line x1="540.1" y1="656.5" x2="546.3" y2="656.5" stroke="#2a2a2a" stroke-width="1.3"/>
<line x1="616" y1="671.1" x2="616" y2="675.1" stroke="#2a2a2a" stroke-width="1.15"/>
<line x1="612.9" y1="671.1" x2="619.1" y2="671.1" stroke="#2a2a2a" stroke-width="1.3"/>
<line x1="540.1" y1="628.6" x2="546.3" y2="628.6" stroke="#2a2a2a" stroke-width="1.3"/>
<line x1="540.1" y1="654.4" x2="546.3" y2="654.4" stroke="#2a2a2a" stroke-width="1.3"/>
<line x1="432.1" y1="643.7" x2="438.3" y2="643.7" stroke="#2a2a2a" stroke-width="1.3"/>
<line x1="441.6" y1="653.6" x2="447.8" y2="653.6" stroke="#2a2a2a" stroke-width="1.3"/>
<line x1="441.6" y1="658" x2="447.8" y2="658" stroke="#2a2a2a" stroke-width="1.3"/>
<circle cx="418.6" cy="679.5" r="3.25" fill="#5DA0E0" stroke="#111" stroke-width="0.85"/>
<circle cx="423.5" cy="682.5" r="3.25" fill="#5DA0E0" stroke="#111" stroke-width="0.85"/>
<circle cx="436.3" cy="569.1" r="3.25" fill="#5DA0E0" stroke="#111" stroke-width="0.85"/>
<circle cx="434.8" cy="638.8" r="3.25" fill="#5DA0E0" stroke="#111" stroke-width="0.85"/>
<circle cx="439.3" cy="679" r="3.25" fill="#5DA0E0" stroke="#111" stroke-width="0.85"/>
<circle cx="444.7" cy="662.9" r="3.25" fill="#5DA0E0" stroke="#111" stroke-width="0.85"/>
<circle cx="451.1" cy="669" r="3.25" fill="#5DA0E0" stroke="#111" stroke-width="0.85"/>
<circle cx="455" cy="677.9" r="3.25" fill="#5DA0E0" stroke="#111" stroke-width="0.85"/>
<circle cx="497.1" cy="678.6" r="3.25" fill="#5DA0E0" stroke="#111" stroke-width="0.85"/>
<circle cx="507.8" cy="679.1" r="3.25" fill="#5DA0E0" stroke="#111" stroke-width="0.85"/>
<circle cx="516.7" cy="683.1" r="3.25" fill="#5DA0E0" stroke="#111" stroke-width="0.85"/>
<circle cx="542.5" cy="642.2" r="3.25" fill="#5DA0E0" stroke="#111" stroke-width="0.85"/>
<circle cx="547.2" cy="680.8" r="3.25" fill="#5DA0E0" stroke="#111" stroke-width="0.85"/>
<circle cx="615.1" cy="675.1" r="3.25" fill="#5DA0E0" stroke="#111" stroke-width="0.85"/>
<circle cx="636.8" cy="679.1" r="3.25" fill="#5DA0E0" stroke="#111" stroke-width="0.85"/>
<circle cx="642.1" cy="678.3" r="3.25" fill="#5DA0E0" stroke="#111" stroke-width="0.85"/>
<circle cx="647" cy="678.8" r="3.25" fill="#5DA0E0" stroke="#111" stroke-width="0.85"/>
<circle cx="673" cy="677.5" r="3.25" fill="#5DA0E0" stroke="#111" stroke-width="0.85"/>
<circle cx="418.6" cy="677.2" r="3.25" fill="#FFC500" stroke="#111" stroke-width="0.85"/>
<circle cx="423.5" cy="680.8" r="3.25" fill="#FFC500" stroke="#111" stroke-width="0.85"/>
<circle cx="428.5" cy="673.5" r="3.25" fill="#FFC500" stroke="#111" stroke-width="0.85"/>
<circle cx="434.8" cy="620.1" r="3.25" fill="#FFC500" stroke="#111" stroke-width="0.85"/>
<circle cx="436.3" cy="663.2" r="3.25" fill="#FFC500" stroke="#111" stroke-width="0.85"/>
<circle cx="439.3" cy="676.4" r="3.25" fill="#FFC500" stroke="#111" stroke-width="0.85"/>
<circle cx="444.7" cy="646.2" r="3.25" fill="#FFC500" stroke="#111" stroke-width="0.85"/>
<circle cx="451.1" cy="649.9" r="3.25" fill="#FFC500" stroke="#111" stroke-width="0.85"/>
<circle cx="455" cy="671.3" r="3.25" fill="#FFC500" stroke="#111" stroke-width="0.85"/>
<circle cx="460.6" cy="682" r="3.25" fill="#FFC500" stroke="#111" stroke-width="0.85"/>
<circle cx="465.3" cy="674.2" r="3.25" fill="#FFC500" stroke="#111" stroke-width="0.85"/>
<circle cx="470.2" cy="682" r="3.25" fill="#FFC500" stroke="#111" stroke-width="0.85"/>
<circle cx="474.6" cy="682" r="3.25" fill="#FFC500" stroke="#111" stroke-width="0.85"/>
<circle cx="479.8" cy="682" r="3.25" fill="#FFC500" stroke="#111" stroke-width="0.85"/>
<circle cx="485.4" cy="682" r="3.25" fill="#FFC500" stroke="#111" stroke-width="0.85"/>
<circle cx="491.1" cy="682" r="3.25" fill="#FFC500" stroke="#111" stroke-width="0.85"/>
<circle cx="497.1" cy="681.6" r="3.25" fill="#FFC500" stroke="#111" stroke-width="0.85"/>
<circle cx="502.6" cy="681.1" r="3.25" fill="#FFC500" stroke="#111" stroke-width="0.85"/>
<circle cx="507.8" cy="682.3" r="3.25" fill="#FFC500" stroke="#111" stroke-width="0.85"/>
<circle cx="513" cy="682.3" r="3.25" fill="#FFC500" stroke="#111" stroke-width="0.85"/>
<circle cx="516.7" cy="680.1" r="3.25" fill="#FFC500" stroke="#111" stroke-width="0.85"/>
<circle cx="521.6" cy="682.3" r="3.25" fill="#FFC500" stroke="#111" stroke-width="0.85"/>
<circle cx="528.6" cy="682.3" r="3.25" fill="#FFC500" stroke="#111" stroke-width="0.85"/>
<circle cx="532.8" cy="681.3" r="3.25" fill="#FFC500" stroke="#111" stroke-width="0.85"/>
<circle cx="542.5" cy="637.1" r="3.25" fill="#FFC500" stroke="#111" stroke-width="0.85"/>
<circle cx="547.2" cy="678.6" r="3.25" fill="#FFC500" stroke="#111" stroke-width="0.85"/>
<circle cx="558.4" cy="682.3" r="3.25" fill="#FFC500" stroke="#111" stroke-width="0.85"/>
<circle cx="562.9" cy="682.3" r="3.25" fill="#FFC500" stroke="#111" stroke-width="0.85"/>
<circle cx="568.1" cy="682.3" r="3.25" fill="#FFC500" stroke="#111" stroke-width="0.85"/>
<circle cx="573.3" cy="681.6" r="3.25" fill="#FFC500" stroke="#111" stroke-width="0.85"/>
<circle cx="578.5" cy="682.3" r="3.25" fill="#FFC500" stroke="#111" stroke-width="0.85"/>
<circle cx="584.3" cy="681.5" r="3.25" fill="#FFC500" stroke="#111" stroke-width="0.85"/>
<circle cx="589.1" cy="682.3" r="3.25" fill="#FFC500" stroke="#111" stroke-width="0.85"/>
<circle cx="594" cy="682.3" r="3.25" fill="#FFC500" stroke="#111" stroke-width="0.85"/>
<circle cx="599.1" cy="682.3" r="3.25" fill="#FFC500" stroke="#111" stroke-width="0.85"/>
<circle cx="604.7" cy="682.3" r="3.25" fill="#FFC500" stroke="#111" stroke-width="0.85"/>
<circle cx="609.5" cy="680.4" r="3.25" fill="#FFC500" stroke="#111" stroke-width="0.85"/>
<circle cx="615.1" cy="679.9" r="3.25" fill="#FFC500" stroke="#111" stroke-width="0.85"/>
<circle cx="619.6" cy="682.3" r="3.25" fill="#FFC500" stroke="#111" stroke-width="0.85"/>
<circle cx="625.1" cy="680.7" r="3.25" fill="#FFC500" stroke="#111" stroke-width="0.85"/>
<circle cx="631.2" cy="682.3" r="3.25" fill="#FFC500" stroke="#111" stroke-width="0.85"/>
<circle cx="636.8" cy="682" r="3.25" fill="#FFC500" stroke="#111" stroke-width="0.85"/>
<circle cx="642.1" cy="682" r="3.25" fill="#FFC500" stroke="#111" stroke-width="0.85"/>
<circle cx="647" cy="682" r="3.25" fill="#FFC500" stroke="#111" stroke-width="0.85"/>
<circle cx="652.1" cy="682" r="3.25" fill="#FFC500" stroke="#111" stroke-width="0.85"/>
<circle cx="658.2" cy="682" r="3.25" fill="#FFC500" stroke="#111" stroke-width="0.85"/>
<circle cx="662.5" cy="681.5" r="3.25" fill="#FFC500" stroke="#111" stroke-width="0.85"/>
<circle cx="667.8" cy="682.3" r="3.25" fill="#FFC500" stroke="#111" stroke-width="0.85"/>
<circle cx="673" cy="682" r="3.25" fill="#FFC500" stroke="#111" stroke-width="0.85"/>
<line x1="107.6" y1="818.4" x2="107.6" y2="829.8" stroke="#2a2a2a" stroke-width="1.15"/>
<line x1="104.5" y1="818.4" x2="110.7" y2="818.4" stroke="#2a2a2a" stroke-width="1.3"/>
<line x1="104.5" y1="829.8" x2="110.7" y2="829.8" stroke="#2a2a2a" stroke-width="1.3"/>
<line x1="109.9" y1="777.1" x2="109.9" y2="848" stroke="#2a2a2a" stroke-width="1.15"/>
<line x1="106.8" y1="777.1" x2="113" y2="777.1" stroke="#2a2a2a" stroke-width="1.3"/>
<line x1="106.8" y1="848" x2="113" y2="848" stroke="#2a2a2a" stroke-width="1.3"/>
<line x1="112.9" y1="773.3" x2="112.9" y2="846.6" stroke="#2a2a2a" stroke-width="1.15"/>
<line x1="109.8" y1="773.3" x2="116" y2="773.3" stroke="#2a2a2a" stroke-width="1.3"/>
<line x1="109.8" y1="846.6" x2="116" y2="846.6" stroke="#2a2a2a" stroke-width="1.3"/>
<line x1="117.8" y1="801.2" x2="117.8" y2="829.1" stroke="#2a2a2a" stroke-width="1.15"/>
<line x1="114.7" y1="801.2" x2="120.9" y2="801.2" stroke="#2a2a2a" stroke-width="1.3"/>
<line x1="114.7" y1="829.1" x2="120.9" y2="829.1" stroke="#2a2a2a" stroke-width="1.3"/>
<line x1="124.7" y1="771" x2="124.7" y2="835.1" stroke="#2a2a2a" stroke-width="1.15"/>
<line x1="121.6" y1="771" x2="127.8" y2="771" stroke="#2a2a2a" stroke-width="1.3"/>
<line x1="121.6" y1="835.1" x2="127.8" y2="835.1" stroke="#2a2a2a" stroke-width="1.3"/>
<line x1="138.7" y1="788.3" x2="138.7" y2="837.5" stroke="#2a2a2a" stroke-width="1.15"/>
<line x1="135.6" y1="788.3" x2="141.8" y2="788.3" stroke="#2a2a2a" stroke-width="1.3"/>
<line x1="135.6" y1="837.5" x2="141.8" y2="837.5" stroke="#2a2a2a" stroke-width="1.3"/>
<line x1="142.9" y1="796.4" x2="142.9" y2="819.4" stroke="#2a2a2a" stroke-width="1.15"/>
<line x1="139.8" y1="796.4" x2="146" y2="796.4" stroke="#2a2a2a" stroke-width="1.3"/>
<line x1="139.8" y1="819.4" x2="146" y2="819.4" stroke="#2a2a2a" stroke-width="1.3"/>
<line x1="142.9" y1="743.4" x2="142.9" y2="766.8" stroke="#2a2a2a" stroke-width="1.15"/>
<line x1="139.8" y1="743.4" x2="146" y2="743.4" stroke="#2a2a2a" stroke-width="1.3"/>
<line x1="139.8" y1="766.8" x2="146" y2="766.8" stroke="#2a2a2a" stroke-width="1.3"/>
<line x1="153.6" y1="841" x2="153.6" y2="845.9" stroke="#2a2a2a" stroke-width="1.15"/>
<line x1="150.5" y1="841" x2="156.7" y2="841" stroke="#2a2a2a" stroke-width="1.3"/>
<line x1="235.4" y1="839.7" x2="235.4" y2="845.5" stroke="#2a2a2a" stroke-width="1.15"/>
<line x1="232.3" y1="839.7" x2="238.5" y2="839.7" stroke="#2a2a2a" stroke-width="1.3"/>
<line x1="246.1" y1="840.4" x2="246.1" y2="845.5" stroke="#2a2a2a" stroke-width="1.15"/>
<line x1="243" y1="840.4" x2="249.2" y2="840.4" stroke="#2a2a2a" stroke-width="1.3"/>
<line x1="250.9" y1="834.1" x2="250.9" y2="842.8" stroke="#2a2a2a" stroke-width="1.15"/>
<line x1="247.8" y1="834.1" x2="254" y2="834.1" stroke="#2a2a2a" stroke-width="1.3"/>
<line x1="257.5" y1="819.6" x2="257.5" y2="841" stroke="#2a2a2a" stroke-width="1.15"/>
<line x1="254.4" y1="819.6" x2="260.6" y2="819.6" stroke="#2a2a2a" stroke-width="1.3"/>
<line x1="254.4" y1="841" x2="260.6" y2="841" stroke="#2a2a2a" stroke-width="1.3"/>
<line x1="266.7" y1="841.1" x2="266.7" y2="844.6" stroke="#2a2a2a" stroke-width="1.15"/>
<line x1="263.6" y1="841.1" x2="269.8" y2="841.1" stroke="#2a2a2a" stroke-width="1.3"/>
<line x1="292.5" y1="843.7" x2="292.5" y2="848.5" stroke="#2a2a2a" stroke-width="1.15"/>
<line x1="289.4" y1="843.7" x2="295.6" y2="843.7" stroke="#2a2a2a" stroke-width="1.3"/>
<line x1="121.6" y1="822.6" x2="127.8" y2="822.6" stroke="#2a2a2a" stroke-width="1.3"/>
<line x1="134.6" y1="836.5" x2="140.8" y2="836.5" stroke="#2a2a2a" stroke-width="1.3"/>
<circle cx="91.7" cy="847.3" r="3.25" fill="#5DA0E0" stroke="#111" stroke-width="0.85"/>
<circle cx="96.9" cy="850.7" r="3.25" fill="#5DA0E0" stroke="#111" stroke-width="0.85"/>
<circle cx="107.6" cy="843.1" r="3.25" fill="#5DA0E0" stroke="#111" stroke-width="0.85"/>
<circle cx="111.5" cy="829.8" r="3.25" fill="#5DA0E0" stroke="#111" stroke-width="0.85"/>
<circle cx="117.8" cy="814.8" r="3.25" fill="#5DA0E0" stroke="#111" stroke-width="0.85"/>
<circle cx="124.3" cy="812.4" r="3.25" fill="#5DA0E0" stroke="#111" stroke-width="0.85"/>
<circle cx="133.5" cy="850.7" r="3.25" fill="#5DA0E0" stroke="#111" stroke-width="0.85"/>
<circle cx="137.7" cy="842.4" r="3.25" fill="#5DA0E0" stroke="#111" stroke-width="0.85"/>
<circle cx="142.9" cy="807.5" r="3.25" fill="#5DA0E0" stroke="#111" stroke-width="0.85"/>
<circle cx="147.8" cy="849.4" r="3.25" fill="#5DA0E0" stroke="#111" stroke-width="0.85"/>
<circle cx="153.6" cy="849.2" r="3.25" fill="#5DA0E0" stroke="#111" stroke-width="0.85"/>
<circle cx="158.5" cy="852.4" r="3.25" fill="#5DA0E0" stroke="#111" stroke-width="0.85"/>
<circle cx="169.7" cy="850.7" r="3.25" fill="#5DA0E0" stroke="#111" stroke-width="0.85"/>
<circle cx="175.5" cy="850.7" r="3.25" fill="#5DA0E0" stroke="#111" stroke-width="0.85"/>
<circle cx="189.1" cy="852.1" r="3.25" fill="#5DA0E0" stroke="#111" stroke-width="0.85"/>
<circle cx="235.4" cy="850.7" r="3.25" fill="#5DA0E0" stroke="#111" stroke-width="0.85"/>
<circle cx="240.8" cy="851.6" r="3.25" fill="#5DA0E0" stroke="#111" stroke-width="0.85"/>
<circle cx="246" cy="849.8" r="3.25" fill="#5DA0E0" stroke="#111" stroke-width="0.85"/>
<circle cx="250.9" cy="849.4" r="3.25" fill="#5DA0E0" stroke="#111" stroke-width="0.85"/>
<circle cx="256.6" cy="843.5" r="3.25" fill="#5DA0E0" stroke="#111" stroke-width="0.85"/>
<circle cx="266.7" cy="849.8" r="3.25" fill="#5DA0E0" stroke="#111" stroke-width="0.85"/>
<circle cx="271.5" cy="850.7" r="3.25" fill="#5DA0E0" stroke="#111" stroke-width="0.85"/>
<circle cx="276.6" cy="852" r="3.25" fill="#5DA0E0" stroke="#111" stroke-width="0.85"/>
<circle cx="292.5" cy="851.6" r="3.25" fill="#5DA0E0" stroke="#111" stroke-width="0.85"/>
<circle cx="297.4" cy="852.5" r="3.25" fill="#5DA0E0" stroke="#111" stroke-width="0.85"/>
<circle cx="319" cy="845.4" r="3.25" fill="#5DA0E0" stroke="#111" stroke-width="0.85"/>
<circle cx="324.4" cy="852.1" r="3.25" fill="#5DA0E0" stroke="#111" stroke-width="0.85"/>
<circle cx="91.7" cy="850.5" r="3.25" fill="#FFC500" stroke="#111" stroke-width="0.85"/>
<circle cx="96.9" cy="847.3" r="3.25" fill="#FFC500" stroke="#111" stroke-width="0.85"/>
<circle cx="102" cy="847.7" r="3.25" fill="#FFC500" stroke="#111" stroke-width="0.85"/>
<circle cx="107.6" cy="823.1" r="3.25" fill="#FFC500" stroke="#111" stroke-width="0.85"/>
<circle cx="109.4" cy="803.3" r="3.25" fill="#FFC500" stroke="#111" stroke-width="0.85"/>
<circle cx="112.2" cy="792.5" r="3.25" fill="#FFC500" stroke="#111" stroke-width="0.85"/>
<circle cx="117.8" cy="834.3" r="3.25" fill="#FFC500" stroke="#111" stroke-width="0.85"/>
<circle cx="124.3" cy="802.6" r="3.25" fill="#FFC500" stroke="#111" stroke-width="0.85"/>
<circle cx="128.5" cy="849.1" r="3.25" fill="#FFC500" stroke="#111" stroke-width="0.85"/>
<circle cx="133.5" cy="847.3" r="3.25" fill="#FFC500" stroke="#111" stroke-width="0.85"/>
<circle cx="137.7" cy="812.4" r="3.25" fill="#FFC500" stroke="#111" stroke-width="0.85"/>
<circle cx="142.9" cy="754.5" r="3.25" fill="#FFC500" stroke="#111" stroke-width="0.85"/>
<circle cx="147.8" cy="846.6" r="3.25" fill="#FFC500" stroke="#111" stroke-width="0.85"/>
<circle cx="153.3" cy="845.9" r="3.25" fill="#FFC500" stroke="#111" stroke-width="0.85"/>
<circle cx="158.5" cy="848.9" r="3.25" fill="#FFC500" stroke="#111" stroke-width="0.85"/>
<circle cx="163.6" cy="850.7" r="3.25" fill="#FFC500" stroke="#111" stroke-width="0.85"/>
<circle cx="169.7" cy="847" r="3.25" fill="#FFC500" stroke="#111" stroke-width="0.85"/>
<circle cx="175.5" cy="846" r="3.25" fill="#FFC500" stroke="#111" stroke-width="0.85"/>
<circle cx="180.7" cy="849.2" r="3.25" fill="#FFC500" stroke="#111" stroke-width="0.85"/>
<circle cx="185" cy="849.5" r="3.25" fill="#FFC500" stroke="#111" stroke-width="0.85"/>
<circle cx="189.1" cy="849.2" r="3.25" fill="#FFC500" stroke="#111" stroke-width="0.85"/>
<circle cx="194.5" cy="849.9" r="3.25" fill="#FFC500" stroke="#111" stroke-width="0.85"/>
<circle cx="201.1" cy="849.9" r="3.25" fill="#FFC500" stroke="#111" stroke-width="0.85"/>
<circle cx="205.2" cy="849.9" r="3.25" fill="#FFC500" stroke="#111" stroke-width="0.85"/>
<circle cx="215" cy="848" r="3.25" fill="#FFC500" stroke="#111" stroke-width="0.85"/>
<circle cx="220.4" cy="851.4" r="3.25" fill="#FFC500" stroke="#111" stroke-width="0.85"/>
<circle cx="230" cy="849.9" r="3.25" fill="#FFC500" stroke="#111" stroke-width="0.85"/>
<circle cx="235.4" cy="845.5" r="3.25" fill="#FFC500" stroke="#111" stroke-width="0.85"/>
<circle cx="240.8" cy="846.3" r="3.25" fill="#FFC500" stroke="#111" stroke-width="0.85"/>
<circle cx="246.1" cy="845.5" r="3.25" fill="#FFC500" stroke="#111" stroke-width="0.85"/>
<circle cx="250.9" cy="842.8" r="3.25" fill="#FFC500" stroke="#111" stroke-width="0.85"/>
<circle cx="256.6" cy="832.6" r="3.25" fill="#FFC500" stroke="#111" stroke-width="0.85"/>
<circle cx="262.3" cy="851.2" r="3.25" fill="#FFC500" stroke="#111" stroke-width="0.85"/>
<circle cx="266.7" cy="844.6" r="3.25" fill="#FFC500" stroke="#111" stroke-width="0.85"/>
<circle cx="271.5" cy="847.5" r="3.25" fill="#FFC500" stroke="#111" stroke-width="0.85"/>
<circle cx="276.6" cy="848.1" r="3.25" fill="#FFC500" stroke="#111" stroke-width="0.85"/>
<circle cx="281.6" cy="851.2" r="3.25" fill="#FFC500" stroke="#111" stroke-width="0.85"/>
<circle cx="287.3" cy="849" r="3.25" fill="#FFC500" stroke="#111" stroke-width="0.85"/>
<circle cx="292.5" cy="848.5" r="3.25" fill="#FFC500" stroke="#111" stroke-width="0.85"/>
<circle cx="297.4" cy="849.8" r="3.25" fill="#FFC500" stroke="#111" stroke-width="0.85"/>
<circle cx="303.6" cy="850.6" r="3.25" fill="#FFC500" stroke="#111" stroke-width="0.85"/>
<circle cx="309" cy="850.6" r="3.25" fill="#FFC500" stroke="#111" stroke-width="0.85"/>
<circle cx="314" cy="850.6" r="3.25" fill="#FFC500" stroke="#111" stroke-width="0.85"/>
<circle cx="319" cy="849.3" r="3.25" fill="#FFC500" stroke="#111" stroke-width="0.85"/>
<circle cx="324.4" cy="849.3" r="3.25" fill="#FFC500" stroke="#111" stroke-width="0.85"/>
<circle cx="329.8" cy="852.6" r="3.25" fill="#FFC500" stroke="#111" stroke-width="0.85"/>
<circle cx="333.9" cy="850.8" r="3.25" fill="#FFC500" stroke="#111" stroke-width="0.85"/>
<circle cx="339.3" cy="851.1" r="3.25" fill="#FFC500" stroke="#111" stroke-width="0.85"/>
<circle cx="344.8" cy="850.8" r="3.25" fill="#FFC500" stroke="#111" stroke-width="0.85"/>
<line x1="436.5" y1="703" x2="436.5" y2="834.3" stroke="#2a2a2a" stroke-width="1.15"/>
<line x1="444.2" y1="703" x2="444.2" y2="843.2" stroke="#2a2a2a" stroke-width="1.15"/>
<line x1="441.1" y1="843.2" x2="447.3" y2="843.2" stroke="#2a2a2a" stroke-width="1.3"/>
<line x1="439.2" y1="836.1" x2="439.2" y2="841.5" stroke="#2a2a2a" stroke-width="1.15"/>
<line x1="436.1" y1="836.1" x2="442.3" y2="836.1" stroke="#2a2a2a" stroke-width="1.3"/>
<line x1="464.8" y1="837" x2="464.8" y2="843.2" stroke="#2a2a2a" stroke-width="1.15"/>
<line x1="461.7" y1="837" x2="467.9" y2="837" stroke="#2a2a2a" stroke-width="1.3"/>
<line x1="584.3" y1="819.8" x2="584.3" y2="840.4" stroke="#2a2a2a" stroke-width="1.15"/>
<line x1="581.2" y1="819.8" x2="587.4" y2="819.8" stroke="#2a2a2a" stroke-width="1.3"/>
<line x1="581.2" y1="840.4" x2="587.4" y2="840.4" stroke="#2a2a2a" stroke-width="1.3"/>
<line x1="433.4" y1="803.9" x2="439.6" y2="803.9" stroke="#2a2a2a" stroke-width="1.3"/>
<line x1="431.3" y1="814.6" x2="437.5" y2="814.6" stroke="#2a2a2a" stroke-width="1.3"/>
<line x1="431.3" y1="829.8" x2="437.5" y2="829.8" stroke="#2a2a2a" stroke-width="1.3"/>
<line x1="431.3" y1="834.3" x2="437.5" y2="834.3" stroke="#2a2a2a" stroke-width="1.3"/>
<line x1="441.1" y1="811" x2="447.3" y2="811" stroke="#2a2a2a" stroke-width="1.3"/>
<line x1="441.1" y1="816" x2="447.3" y2="816" stroke="#2a2a2a" stroke-width="1.3"/>
<circle cx="423.6" cy="851.3" r="3.25" fill="#5DA0E0" stroke="#111" stroke-width="0.85"/>
<circle cx="436.5" cy="812.4" r="3.25" fill="#5DA0E0" stroke="#111" stroke-width="0.85"/>
<circle cx="444.2" cy="826.8" r="3.25" fill="#5DA0E0" stroke="#111" stroke-width="0.85"/>
<circle cx="439.2" cy="845.9" r="3.25" fill="#5DA0E0" stroke="#111" stroke-width="0.85"/>
<circle cx="450.5" cy="846" r="3.25" fill="#5DA0E0" stroke="#111" stroke-width="0.85"/>
<circle cx="455" cy="851" r="3.25" fill="#5DA0E0" stroke="#111" stroke-width="0.85"/>
<circle cx="464.8" cy="849.5" r="3.25" fill="#5DA0E0" stroke="#111" stroke-width="0.85"/>
<circle cx="521.1" cy="853.3" r="3.25" fill="#5DA0E0" stroke="#111" stroke-width="0.85"/>
<circle cx="577.3" cy="849.3" r="3.25" fill="#5DA0E0" stroke="#111" stroke-width="0.85"/>
<circle cx="583.8" cy="851.9" r="3.25" fill="#5DA0E0" stroke="#111" stroke-width="0.85"/>
<circle cx="603.6" cy="848.7" r="3.25" fill="#5DA0E0" stroke="#111" stroke-width="0.85"/>
<circle cx="418.3" cy="847.7" r="3.25" fill="#FFC500" stroke="#111" stroke-width="0.85"/>
<circle cx="423.6" cy="846.8" r="3.25" fill="#FFC500" stroke="#111" stroke-width="0.85"/>
<circle cx="428.5" cy="845.4" r="3.25" fill="#FFC500" stroke="#111" stroke-width="0.85"/>
<circle cx="434.4" cy="822.6" r="3.25" fill="#FFC500" stroke="#111" stroke-width="0.85"/>
<circle cx="436.5" cy="738.5" r="3.25" fill="#FFC500" stroke="#111" stroke-width="0.85"/>
<circle cx="439.2" cy="841.5" r="3.25" fill="#FFC500" stroke="#111" stroke-width="0.85"/>
<circle cx="444.2" cy="715.8" r="3.25" fill="#FFC500" stroke="#111" stroke-width="0.85"/>
<circle cx="450.5" cy="843.2" r="3.25" fill="#FFC500" stroke="#111" stroke-width="0.85"/>
<circle cx="455" cy="848.6" r="3.25" fill="#FFC500" stroke="#111" stroke-width="0.85"/>
<circle cx="460.3" cy="851.8" r="3.25" fill="#FFC500" stroke="#111" stroke-width="0.85"/>
<circle cx="464.8" cy="843.2" r="3.25" fill="#FFC500" stroke="#111" stroke-width="0.85"/>
<circle cx="469.7" cy="851.3" r="3.25" fill="#FFC500" stroke="#111" stroke-width="0.85"/>
<circle cx="474.3" cy="851.8" r="3.25" fill="#FFC500" stroke="#111" stroke-width="0.85"/>
<circle cx="480" cy="851.7" r="3.25" fill="#FFC500" stroke="#111" stroke-width="0.85"/>
<circle cx="485.3" cy="850.6" r="3.25" fill="#FFC500" stroke="#111" stroke-width="0.85"/>
<circle cx="490.1" cy="851.7" r="3.25" fill="#FFC500" stroke="#111" stroke-width="0.85"/>
<circle cx="497" cy="851.7" r="3.25" fill="#FFC500" stroke="#111" stroke-width="0.85"/>
<circle cx="502.1" cy="850.9" r="3.25" fill="#FFC500" stroke="#111" stroke-width="0.85"/>
<circle cx="506.9" cy="851.7" r="3.25" fill="#FFC500" stroke="#111" stroke-width="0.85"/>
<circle cx="512.1" cy="851.7" r="3.25" fill="#FFC500" stroke="#111" stroke-width="0.85"/>
<circle cx="516.6" cy="851.7" r="3.25" fill="#FFC500" stroke="#111" stroke-width="0.85"/>
<circle cx="521.1" cy="850.1" r="3.25" fill="#FFC500" stroke="#111" stroke-width="0.85"/>
<circle cx="528.1" cy="851.7" r="3.25" fill="#FFC500" stroke="#111" stroke-width="0.85"/>
<circle cx="531.8" cy="851.7" r="3.25" fill="#FFC500" stroke="#111" stroke-width="0.85"/>
<circle cx="541.5" cy="850.1" r="3.25" fill="#FFC500" stroke="#111" stroke-width="0.85"/>
<circle cx="546.8" cy="851.7" r="3.25" fill="#FFC500" stroke="#111" stroke-width="0.85"/>
<circle cx="556.7" cy="850.9" r="3.25" fill="#FFC500" stroke="#111" stroke-width="0.85"/>
<circle cx="561.5" cy="852.2" r="3.25" fill="#FFC500" stroke="#111" stroke-width="0.85"/>
<circle cx="567.2" cy="851.7" r="3.25" fill="#FFC500" stroke="#111" stroke-width="0.85"/>
<circle cx="572" cy="852.2" r="3.25" fill="#FFC500" stroke="#111" stroke-width="0.85"/>
<circle cx="577.3" cy="851.2" r="3.25" fill="#FFC500" stroke="#111" stroke-width="0.85"/>
<circle cx="584.3" cy="829.8" r="3.25" fill="#FFC500" stroke="#111" stroke-width="0.85"/>
<circle cx="588.7" cy="851.9" r="3.25" fill="#FFC500" stroke="#111" stroke-width="0.85"/>
<circle cx="593.5" cy="851.6" r="3.25" fill="#FFC500" stroke="#111" stroke-width="0.85"/>
<circle cx="598.3" cy="851.9" r="3.25" fill="#FFC500" stroke="#111" stroke-width="0.85"/>
<circle cx="603.6" cy="851.6" r="3.25" fill="#FFC500" stroke="#111" stroke-width="0.85"/>
<circle cx="608.4" cy="852.7" r="3.25" fill="#FFC500" stroke="#111" stroke-width="0.85"/>
<circle cx="614.3" cy="851.9" r="3.25" fill="#FFC500" stroke="#111" stroke-width="0.85"/>
<circle cx="619.2" cy="852.7" r="3.25" fill="#FFC500" stroke="#111" stroke-width="0.85"/>
<circle cx="624" cy="851.1" r="3.25" fill="#FFC500" stroke="#111" stroke-width="0.85"/>
<circle cx="630.4" cy="851.9" r="3.25" fill="#FFC500" stroke="#111" stroke-width="0.85"/>
<circle cx="635.7" cy="851.9" r="3.25" fill="#FFC500" stroke="#111" stroke-width="0.85"/>
<circle cx="640.8" cy="851.9" r="3.25" fill="#FFC500" stroke="#111" stroke-width="0.85"/>
<circle cx="645.7" cy="851.9" r="3.25" fill="#FFC500" stroke="#111" stroke-width="0.85"/>
<circle cx="651.3" cy="852.7" r="3.25" fill="#FFC500" stroke="#111" stroke-width="0.85"/>
<circle cx="656.9" cy="851.6" r="3.25" fill="#FFC500" stroke="#111" stroke-width="0.85"/>
<circle cx="660.9" cy="851.9" r="3.25" fill="#FFC500" stroke="#111" stroke-width="0.85"/>
<circle cx="666.2" cy="851.9" r="3.25" fill="#FFC500" stroke="#111" stroke-width="0.85"/>
<circle cx="672.2" cy="852.3" r="3.25" fill="#FFC500" stroke="#111" stroke-width="0.85"/>
</svg>
</body></html>
